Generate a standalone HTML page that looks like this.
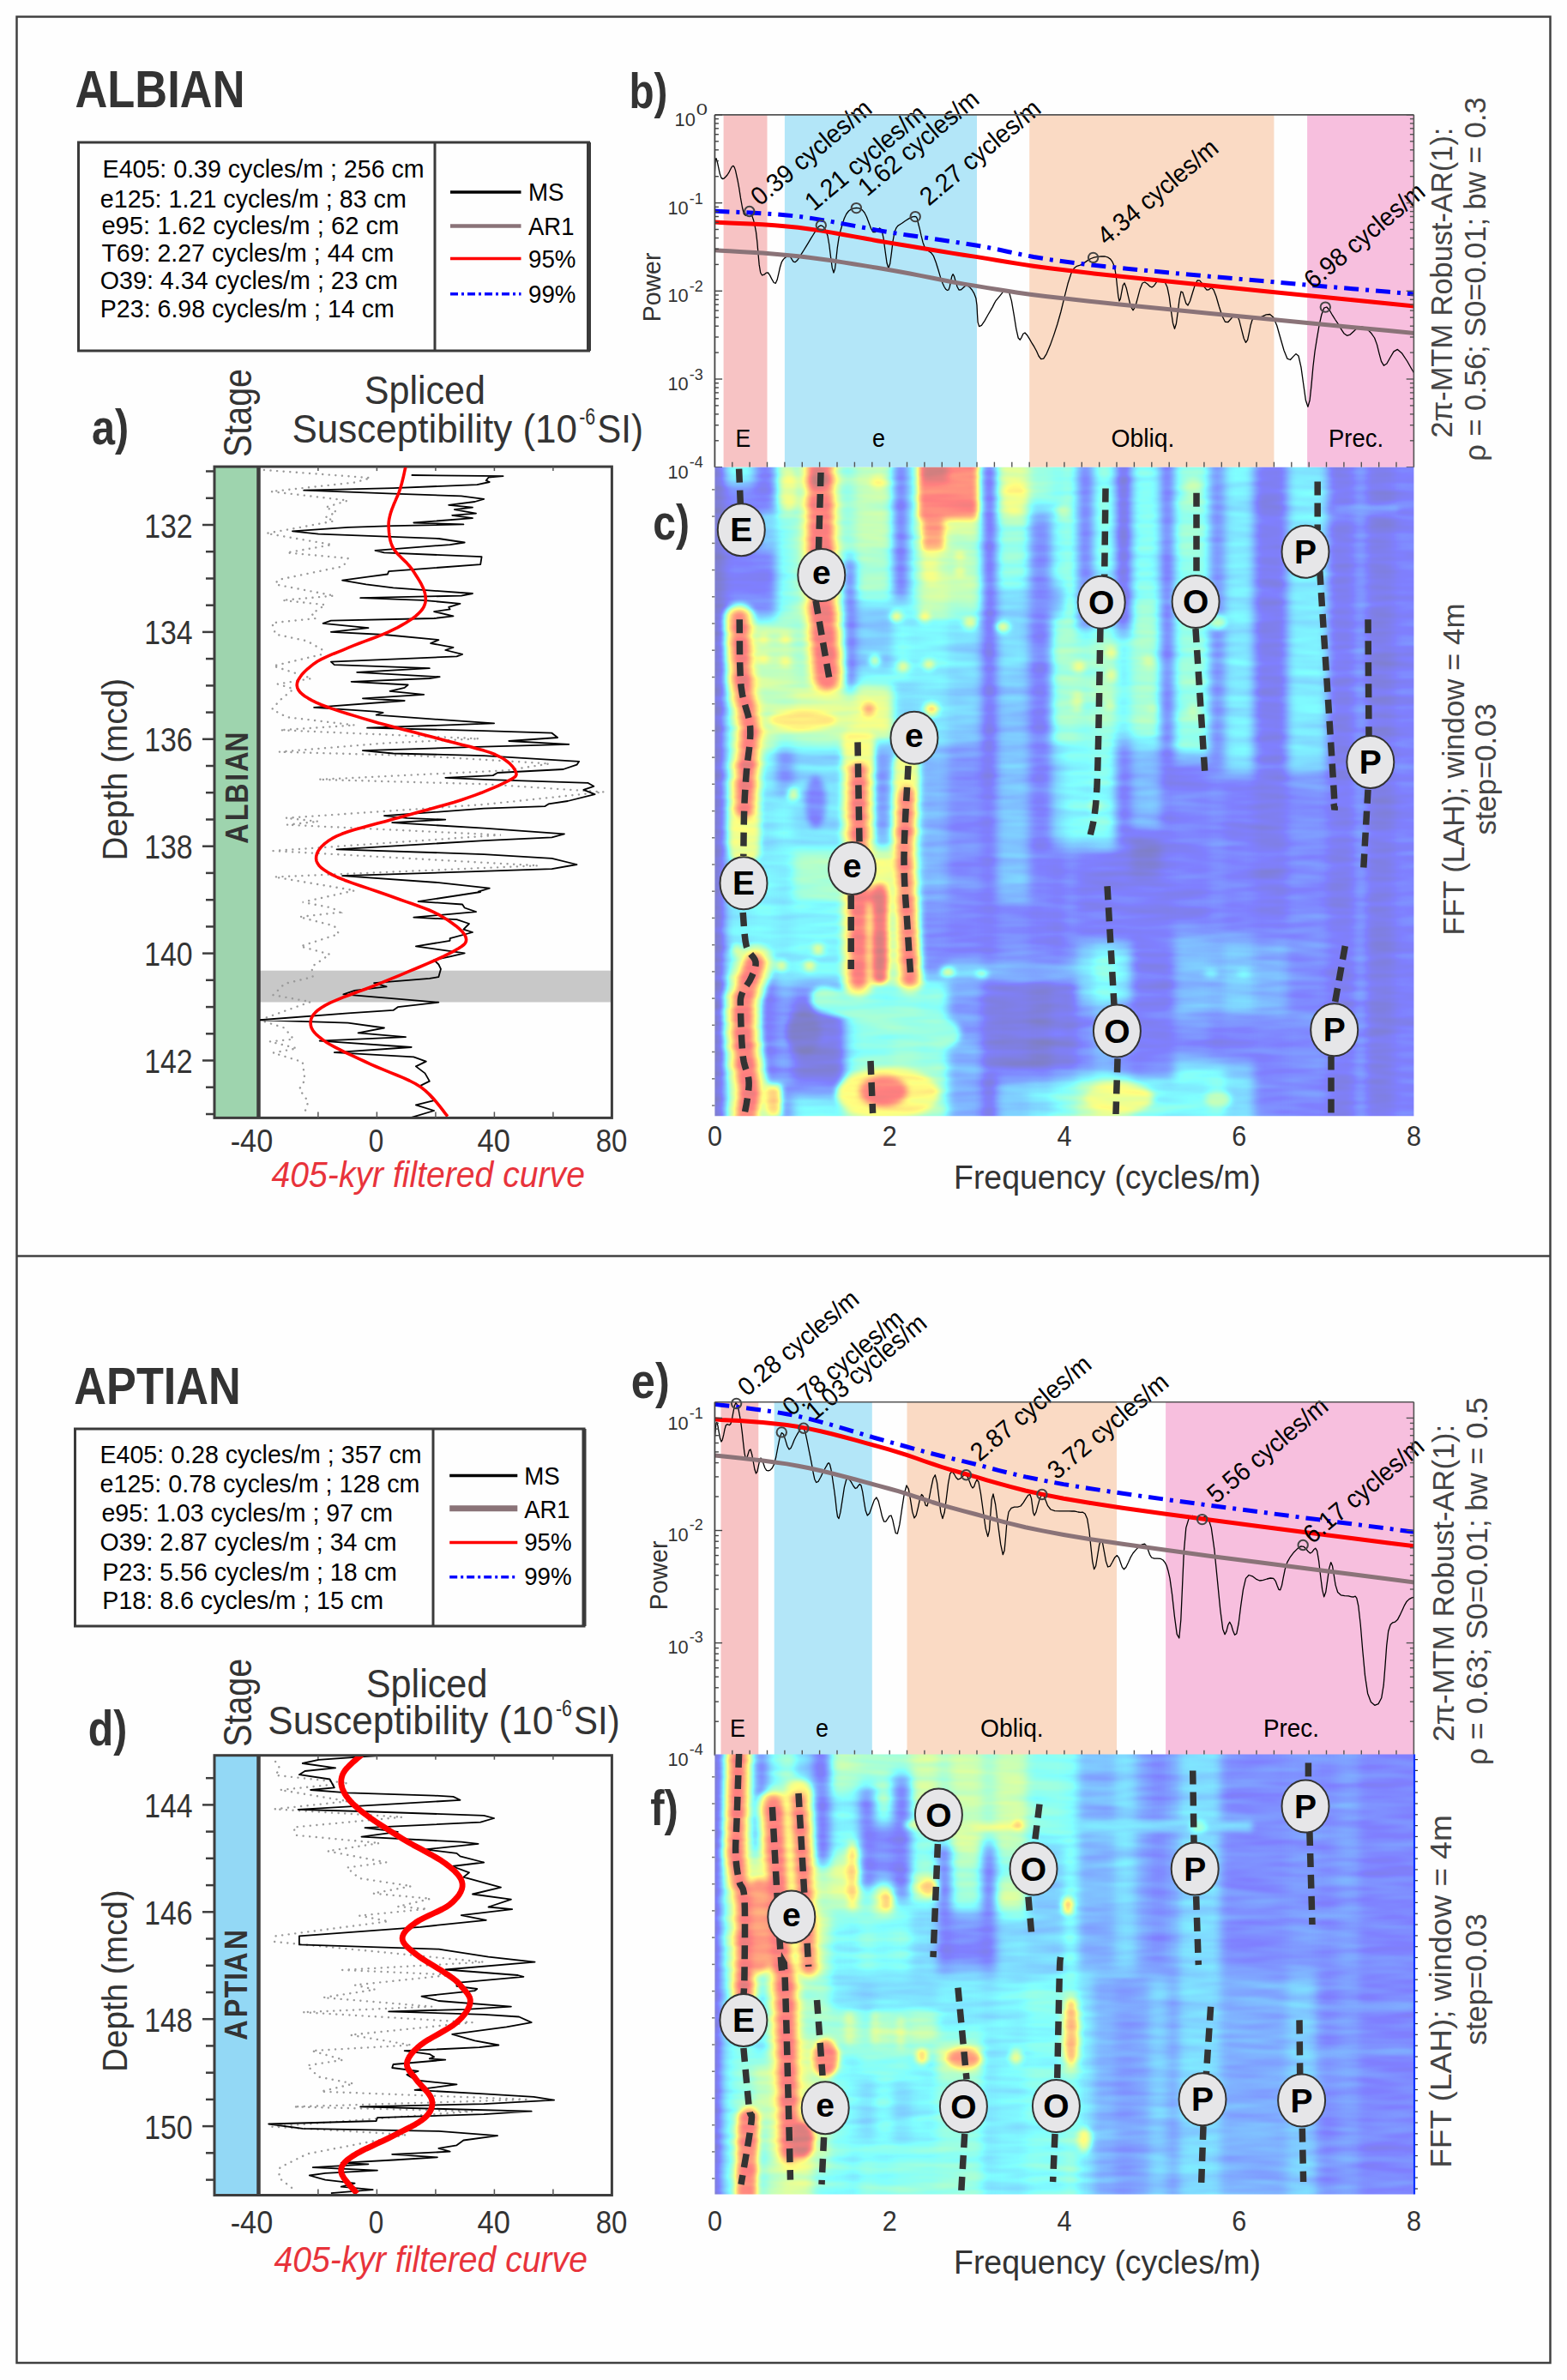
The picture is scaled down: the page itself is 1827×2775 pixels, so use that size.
<!DOCTYPE html>
<html><head><meta charset="utf-8"><style>
html,body{margin:0;padding:0;background:#fefefe;}
svg{display:block;font-family:"Liberation Sans",sans-serif;}
</style></head><body>
<svg width="1827" height="2775" viewBox="0 0 1827 2775">
<rect x="0.0" y="0.0" width="1827.0" height="2775.0" fill="#fefefe" stroke="none" stroke-width="1" />
<g id="spec"></g>
<rect x="19.5" y="19.5" width="1788.0" height="2735.5" fill="none" stroke="#404040" stroke-width="2.5" />
<line x1="19.5" y1="1464.5" x2="1807.5" y2="1464.5" stroke="#404040" stroke-width="2.5" />
<text x="87.5" y="124.6" font-size="61.6" fill="#333" font-weight="bold" textLength="198" lengthAdjust="spacingAndGlyphs" >ALBIAN</text>
<text x="86.3" y="1636.7" font-size="60.6" fill="#333" font-weight="bold" textLength="194.5" lengthAdjust="spacingAndGlyphs" >APTIAN</text>
<rect x="91.5" y="166.0" width="595.0" height="243.0" fill="none" stroke="#3a3a3a" stroke-width="3" />
<line x1="507.0" y1="166.0" x2="507.0" y2="409.0" stroke="#3a3a3a" stroke-width="3" />
<line x1="686.5" y1="166.0" x2="686.5" y2="409.0" stroke="#3a3a3a" stroke-width="5" />
<text x="119.6" y="206.9" font-size="30" fill="#000" textLength="375" lengthAdjust="spacingAndGlyphs" >E405: 0.39 cycles/m ; 256 cm</text>
<text x="116.8" y="241.8" font-size="30" fill="#000" textLength="357" lengthAdjust="spacingAndGlyphs" >e125: 1.21 cycles/m ; 83 cm</text>
<text x="118.4" y="273.0" font-size="30" fill="#000" textLength="347" lengthAdjust="spacingAndGlyphs" >e95: 1.62 cycles/m ;  62 cm</text>
<text x="118.4" y="305.0" font-size="30" fill="#000" textLength="341" lengthAdjust="spacingAndGlyphs" >T69: 2.27 cycles/m ; 44 cm</text>
<text x="116.8" y="336.8" font-size="30" fill="#000" textLength="347" lengthAdjust="spacingAndGlyphs" >O39: 4.34 cycles/m ; 23 cm</text>
<text x="116.8" y="369.6" font-size="30" fill="#000" textLength="343" lengthAdjust="spacingAndGlyphs" >P23: 6.98 cycles/m ; 14 cm</text>
<line x1="525.0" y1="224.0" x2="607.5" y2="224.0" stroke="#000" stroke-width="3.5" />
<text x="616.0" y="234.3" font-size="30" fill="#000" textLength="41.5" lengthAdjust="spacingAndGlyphs" >MS</text>
<line x1="525.0" y1="263.6" x2="607.5" y2="263.6" stroke="#8a7378" stroke-width="4.5" />
<text x="616.0" y="273.9" font-size="30" fill="#000" textLength="53.4" lengthAdjust="spacingAndGlyphs" >AR1</text>
<line x1="525.0" y1="301.6" x2="607.5" y2="301.6" stroke="#f00" stroke-width="3.5" />
<text x="616.0" y="312.2" font-size="30" fill="#000" textLength="55.4" lengthAdjust="spacingAndGlyphs" >95%</text>
<line x1="525.0" y1="342.7" x2="607.5" y2="342.7" stroke="#00f" stroke-width="3.5" stroke-dasharray="9,4,3,4"/>
<text x="616.0" y="352.6" font-size="30" fill="#000" textLength="55.4" lengthAdjust="spacingAndGlyphs" >99%</text>
<rect x="87.5" y="1666.0" width="593.5" height="230.0" fill="none" stroke="#3a3a3a" stroke-width="3" />
<line x1="505.0" y1="1666.0" x2="505.0" y2="1896.0" stroke="#3a3a3a" stroke-width="3" />
<line x1="681.0" y1="1666.0" x2="681.0" y2="1896.0" stroke="#3a3a3a" stroke-width="5" />
<text x="116.5" y="1706.2" font-size="30" fill="#000" textLength="375" lengthAdjust="spacingAndGlyphs" >E405: 0.28 cycles/m ; 357 cm</text>
<text x="116.5" y="1740.2" font-size="30" fill="#000" textLength="373" lengthAdjust="spacingAndGlyphs" >e125: 0.78 cycles/m ; 128 cm</text>
<text x="118.5" y="1773.9" font-size="30" fill="#000" textLength="339.5" lengthAdjust="spacingAndGlyphs" >e95: 1.03 cycles/m ; 97 cm</text>
<text x="116.5" y="1808.3" font-size="30" fill="#000" textLength="346" lengthAdjust="spacingAndGlyphs" >O39: 2.87 cycles/m ; 34 cm</text>
<text x="119.3" y="1842.7" font-size="30" fill="#000" textLength="343.5" lengthAdjust="spacingAndGlyphs" >P23: 5.56 cycles/m ; 18 cm</text>
<text x="119.3" y="1875.6" font-size="30" fill="#000" textLength="327.7" lengthAdjust="spacingAndGlyphs" >P18: 8.6 cycles/m ; 15 cm</text>
<line x1="524.2" y1="1720.4" x2="603.3" y2="1720.4" stroke="#000" stroke-width="3.5" />
<text x="611.2" y="1731.0" font-size="30" fill="#000" textLength="41.5" lengthAdjust="spacingAndGlyphs" >MS</text>
<line x1="524.2" y1="1758.8" x2="603.3" y2="1758.8" stroke="#8a7378" stroke-width="7" />
<text x="611.2" y="1770.0" font-size="30" fill="#000" textLength="53.4" lengthAdjust="spacingAndGlyphs" >AR1</text>
<line x1="524.2" y1="1798.4" x2="603.3" y2="1798.4" stroke="#f00" stroke-width="3.5" />
<text x="611.2" y="1808.0" font-size="30" fill="#000" textLength="55.4" lengthAdjust="spacingAndGlyphs" >95%</text>
<line x1="524.2" y1="1838.8" x2="603.3" y2="1838.8" stroke="#00f" stroke-width="3.5" stroke-dasharray="9,4,3,4"/>
<text x="611.2" y="1848.0" font-size="30" fill="#000" textLength="55.4" lengthAdjust="spacingAndGlyphs" >99%</text>
<rect x="250.0" y="544.1" width="51.0" height="759.3" fill="#9ed4ae" stroke="none" stroke-width="1" />
<rect x="302.0" y="1131.7" width="411.0" height="36.8" fill="#c8c8c8" stroke="none" stroke-width="1" />
<rect x="250.0" y="544.1" width="463.4" height="759.3" fill="none" stroke="#3d3d3d" stroke-width="3" />
<line x1="301.5" y1="544.1" x2="301.5" y2="1303.4" stroke="#3d3d3d" stroke-width="4.5" />
<line x1="370.9" y1="544.1" x2="370.9" y2="549.1" stroke="#555" stroke-width="1.5" />
<line x1="370.9" y1="1303.4" x2="370.9" y2="1296.4" stroke="#555" stroke-width="1.5" />
<line x1="439.4" y1="544.1" x2="439.4" y2="549.1" stroke="#555" stroke-width="1.5" />
<line x1="439.4" y1="1303.4" x2="439.4" y2="1296.4" stroke="#555" stroke-width="1.5" />
<line x1="507.9" y1="544.1" x2="507.9" y2="549.1" stroke="#555" stroke-width="1.5" />
<line x1="507.9" y1="1303.4" x2="507.9" y2="1296.4" stroke="#555" stroke-width="1.5" />
<line x1="576.4" y1="544.1" x2="576.4" y2="549.1" stroke="#555" stroke-width="1.5" />
<line x1="576.4" y1="1303.4" x2="576.4" y2="1296.4" stroke="#555" stroke-width="1.5" />
<line x1="644.9" y1="544.1" x2="644.9" y2="549.1" stroke="#555" stroke-width="1.5" />
<line x1="644.9" y1="1303.4" x2="644.9" y2="1296.4" stroke="#555" stroke-width="1.5" />
<line x1="240.0" y1="549.5" x2="250.0" y2="549.5" stroke="#3d3d3d" stroke-width="2.5" />
<line x1="240.0" y1="580.8" x2="250.0" y2="580.8" stroke="#3d3d3d" stroke-width="2.5" />
<line x1="240.0" y1="643.2" x2="250.0" y2="643.2" stroke="#3d3d3d" stroke-width="2.5" />
<line x1="240.0" y1="674.5" x2="250.0" y2="674.5" stroke="#3d3d3d" stroke-width="2.5" />
<line x1="240.0" y1="705.7" x2="250.0" y2="705.7" stroke="#3d3d3d" stroke-width="2.5" />
<line x1="240.0" y1="768.1" x2="250.0" y2="768.1" stroke="#3d3d3d" stroke-width="2.5" />
<line x1="240.0" y1="799.4" x2="250.0" y2="799.4" stroke="#3d3d3d" stroke-width="2.5" />
<line x1="240.0" y1="830.6" x2="250.0" y2="830.6" stroke="#3d3d3d" stroke-width="2.5" />
<line x1="240.0" y1="893.0" x2="250.0" y2="893.0" stroke="#3d3d3d" stroke-width="2.5" />
<line x1="240.0" y1="924.2" x2="250.0" y2="924.2" stroke="#3d3d3d" stroke-width="2.5" />
<line x1="240.0" y1="955.5" x2="250.0" y2="955.5" stroke="#3d3d3d" stroke-width="2.5" />
<line x1="240.0" y1="1017.9" x2="250.0" y2="1017.9" stroke="#3d3d3d" stroke-width="2.5" />
<line x1="240.0" y1="1049.2" x2="250.0" y2="1049.2" stroke="#3d3d3d" stroke-width="2.5" />
<line x1="240.0" y1="1080.4" x2="250.0" y2="1080.4" stroke="#3d3d3d" stroke-width="2.5" />
<line x1="240.0" y1="1142.8" x2="250.0" y2="1142.8" stroke="#3d3d3d" stroke-width="2.5" />
<line x1="240.0" y1="1174.1" x2="250.0" y2="1174.1" stroke="#3d3d3d" stroke-width="2.5" />
<line x1="240.0" y1="1205.3" x2="250.0" y2="1205.3" stroke="#3d3d3d" stroke-width="2.5" />
<line x1="240.0" y1="1267.7" x2="250.0" y2="1267.7" stroke="#3d3d3d" stroke-width="2.5" />
<line x1="240.0" y1="1299.0" x2="250.0" y2="1299.0" stroke="#3d3d3d" stroke-width="2.5" />
<line x1="236.0" y1="612.0" x2="250.0" y2="612.0" stroke="#3d3d3d" stroke-width="2.5" />
<line x1="236.0" y1="736.9" x2="250.0" y2="736.9" stroke="#3d3d3d" stroke-width="2.5" />
<line x1="236.0" y1="861.8" x2="250.0" y2="861.8" stroke="#3d3d3d" stroke-width="2.5" />
<line x1="236.0" y1="986.7" x2="250.0" y2="986.7" stroke="#3d3d3d" stroke-width="2.5" />
<line x1="236.0" y1="1111.6" x2="250.0" y2="1111.6" stroke="#3d3d3d" stroke-width="2.5" />
<line x1="236.0" y1="1236.5" x2="250.0" y2="1236.5" stroke="#3d3d3d" stroke-width="2.5" />
<text x="224.7" y="626.5" font-size="39" fill="#333" text-anchor="end" textLength="56.5" lengthAdjust="spacingAndGlyphs" >132</text>
<text x="224.7" y="751.4" font-size="39" fill="#333" text-anchor="end" textLength="56.5" lengthAdjust="spacingAndGlyphs" >134</text>
<text x="224.7" y="876.3" font-size="39" fill="#333" text-anchor="end" textLength="56.5" lengthAdjust="spacingAndGlyphs" >136</text>
<text x="224.7" y="1001.2" font-size="39" fill="#333" text-anchor="end" textLength="56.5" lengthAdjust="spacingAndGlyphs" >138</text>
<text x="224.7" y="1126.1" font-size="39" fill="#333" text-anchor="end" textLength="56.5" lengthAdjust="spacingAndGlyphs" >140</text>
<text x="224.7" y="1251.0" font-size="39" fill="#333" text-anchor="end" textLength="56.5" lengthAdjust="spacingAndGlyphs" >142</text>
<text x="106.9" y="518.0" font-size="58" fill="#333" font-weight="bold" textLength="43.2" lengthAdjust="spacingAndGlyphs" >a)</text>
<text transform="translate(293.2,533.0) rotate(-90)" x="0" y="0" font-size="47" fill="#333" textLength="103" lengthAdjust="spacingAndGlyphs" >Stage</text>
<text x="424.7" y="471.1" font-size="46" fill="#333" textLength="141.3" lengthAdjust="spacingAndGlyphs" >Spliced</text>
<text x="340.4" y="516.4" font-size="46" fill="#333" textLength="332.6" lengthAdjust="spacingAndGlyphs" >Susceptibility (10</text>
<text x="675.2" y="495.4" font-size="27" fill="#333" textLength="19" lengthAdjust="spacingAndGlyphs" >-6</text>
<text x="696.3" y="516.4" font-size="46" fill="#333" textLength="53.6" lengthAdjust="spacingAndGlyphs" >SI)</text>
<text transform="translate(148.0,1003.6) rotate(-90)" x="0" y="0" font-size="40.7" fill="#333" textLength="212.6" lengthAdjust="spacingAndGlyphs" >Depth (mcd)</text>
<g transform="translate(289.3,983.1) rotate(-90) scale(0.87,1)">
<text x="-0.90" y="0" font-size="37" font-weight="bold" fill="#333">A</text>
<text x="29.80" y="0" font-size="37" font-weight="bold" fill="#333">L</text>
<text x="53.25" y="0" font-size="37" font-weight="bold" fill="#333">B</text>
<text x="83.25" y="0" font-size="37" font-weight="bold" fill="#333">I</text>
<text x="95.88" y="0" font-size="37" font-weight="bold" fill="#333">A</text>
<text x="122.10" y="0" font-size="37" font-weight="bold" fill="#333">N</text>
</g>
<text x="268.7" y="1342.6" font-size="36" fill="#333" textLength="49.5" lengthAdjust="spacingAndGlyphs" >-40</text>
<text x="438.6" y="1342.6" font-size="36" fill="#333" text-anchor="middle" textLength="17.5" lengthAdjust="spacingAndGlyphs" >0</text>
<text x="575.7" y="1342.6" font-size="36" fill="#333" text-anchor="middle" textLength="38.3" lengthAdjust="spacingAndGlyphs" >40</text>
<text x="713.0" y="1342.6" font-size="36" fill="#333" text-anchor="middle" textLength="36.7" lengthAdjust="spacingAndGlyphs" >80</text>
<text x="316.6" y="1384.1" font-size="41.7" fill="#e8333b" font-style="italic" textLength="365.3" lengthAdjust="spacingAndGlyphs" >405-kyr filtered curve</text>
<rect x="250.0" y="2046.7" width="51.0" height="512.8" fill="#93d8f5" stroke="none" stroke-width="1" />
<rect x="250.0" y="2046.7" width="463.4" height="512.8" fill="none" stroke="#3d3d3d" stroke-width="3" />
<line x1="301.5" y1="2046.7" x2="301.5" y2="2559.5" stroke="#3d3d3d" stroke-width="4.5" />
<line x1="370.9" y1="2046.7" x2="370.9" y2="2051.7" stroke="#555" stroke-width="1.5" />
<line x1="370.9" y1="2559.5" x2="370.9" y2="2552.5" stroke="#555" stroke-width="1.5" />
<line x1="439.4" y1="2046.7" x2="439.4" y2="2051.7" stroke="#555" stroke-width="1.5" />
<line x1="439.4" y1="2559.5" x2="439.4" y2="2552.5" stroke="#555" stroke-width="1.5" />
<line x1="507.9" y1="2046.7" x2="507.9" y2="2051.7" stroke="#555" stroke-width="1.5" />
<line x1="507.9" y1="2559.5" x2="507.9" y2="2552.5" stroke="#555" stroke-width="1.5" />
<line x1="576.4" y1="2046.7" x2="576.4" y2="2051.7" stroke="#555" stroke-width="1.5" />
<line x1="576.4" y1="2559.5" x2="576.4" y2="2552.5" stroke="#555" stroke-width="1.5" />
<line x1="644.9" y1="2046.7" x2="644.9" y2="2051.7" stroke="#555" stroke-width="1.5" />
<line x1="644.9" y1="2559.5" x2="644.9" y2="2552.5" stroke="#555" stroke-width="1.5" />
<line x1="240.0" y1="2073.2" x2="250.0" y2="2073.2" stroke="#3d3d3d" stroke-width="2.5" />
<line x1="240.0" y1="2135.6" x2="250.0" y2="2135.6" stroke="#3d3d3d" stroke-width="2.5" />
<line x1="240.0" y1="2166.8" x2="250.0" y2="2166.8" stroke="#3d3d3d" stroke-width="2.5" />
<line x1="240.0" y1="2198.1" x2="250.0" y2="2198.1" stroke="#3d3d3d" stroke-width="2.5" />
<line x1="240.0" y1="2260.5" x2="250.0" y2="2260.5" stroke="#3d3d3d" stroke-width="2.5" />
<line x1="240.0" y1="2291.8" x2="250.0" y2="2291.8" stroke="#3d3d3d" stroke-width="2.5" />
<line x1="240.0" y1="2323.0" x2="250.0" y2="2323.0" stroke="#3d3d3d" stroke-width="2.5" />
<line x1="240.0" y1="2385.4" x2="250.0" y2="2385.4" stroke="#3d3d3d" stroke-width="2.5" />
<line x1="240.0" y1="2416.7" x2="250.0" y2="2416.7" stroke="#3d3d3d" stroke-width="2.5" />
<line x1="240.0" y1="2447.9" x2="250.0" y2="2447.9" stroke="#3d3d3d" stroke-width="2.5" />
<line x1="240.0" y1="2510.3" x2="250.0" y2="2510.3" stroke="#3d3d3d" stroke-width="2.5" />
<line x1="240.0" y1="2541.6" x2="250.0" y2="2541.6" stroke="#3d3d3d" stroke-width="2.5" />
<line x1="236.0" y1="2104.4" x2="250.0" y2="2104.4" stroke="#3d3d3d" stroke-width="2.5" />
<line x1="236.0" y1="2229.3" x2="250.0" y2="2229.3" stroke="#3d3d3d" stroke-width="2.5" />
<line x1="236.0" y1="2354.2" x2="250.0" y2="2354.2" stroke="#3d3d3d" stroke-width="2.5" />
<line x1="236.0" y1="2479.1" x2="250.0" y2="2479.1" stroke="#3d3d3d" stroke-width="2.5" />
<text x="224.7" y="2118.9" font-size="39" fill="#333" text-anchor="end" textLength="56.5" lengthAdjust="spacingAndGlyphs" >144</text>
<text x="224.7" y="2243.8" font-size="39" fill="#333" text-anchor="end" textLength="56.5" lengthAdjust="spacingAndGlyphs" >146</text>
<text x="224.7" y="2368.7" font-size="39" fill="#333" text-anchor="end" textLength="56.5" lengthAdjust="spacingAndGlyphs" >148</text>
<text x="224.7" y="2493.6" font-size="39" fill="#333" text-anchor="end" textLength="56.5" lengthAdjust="spacingAndGlyphs" >150</text>
<text x="102.7" y="2034.9" font-size="58" fill="#333" font-weight="bold" textLength="45.5" lengthAdjust="spacingAndGlyphs" >d)</text>
<text transform="translate(293.2,2036.8) rotate(-90)" x="0" y="0" font-size="47" fill="#333" textLength="103" lengthAdjust="spacingAndGlyphs" >Stage</text>
<text x="426.8" y="1979.4" font-size="46" fill="#333" textLength="141.6" lengthAdjust="spacingAndGlyphs" >Spliced</text>
<text x="312.3" y="2021.9" font-size="46" fill="#333" textLength="332.9" lengthAdjust="spacingAndGlyphs" >Susceptibility (10</text>
<text x="648.0" y="2000.9" font-size="27" fill="#333" textLength="19" lengthAdjust="spacingAndGlyphs" >-6</text>
<text x="669.1" y="2021.9" font-size="46" fill="#333" textLength="53.6" lengthAdjust="spacingAndGlyphs" >SI)</text>
<text transform="translate(148.0,2416.0) rotate(-90)" x="0" y="0" font-size="40.7" fill="#333" textLength="212.6" lengthAdjust="spacingAndGlyphs" >Depth (mcd)</text>
<g transform="translate(287.9,2377.9) rotate(-90) scale(0.87,1)">
<text x="-0.90" y="0" font-size="37" font-weight="bold" fill="#333">A</text>
<text x="29.57" y="0" font-size="37" font-weight="bold" fill="#333">P</text>
<text x="55.92" y="0" font-size="37" font-weight="bold" fill="#333">T</text>
<text x="79.22" y="0" font-size="37" font-weight="bold" fill="#333">I</text>
<text x="89.90" y="0" font-size="37" font-weight="bold" fill="#333">A</text>
<text x="120.37" y="0" font-size="37" font-weight="bold" fill="#333">N</text>
</g>
<text x="268.7" y="2603.9" font-size="36" fill="#333" textLength="49.5" lengthAdjust="spacingAndGlyphs" >-40</text>
<text x="438.6" y="2603.9" font-size="36" fill="#333" text-anchor="middle" textLength="17.5" lengthAdjust="spacingAndGlyphs" >0</text>
<text x="575.7" y="2603.9" font-size="36" fill="#333" text-anchor="middle" textLength="38.3" lengthAdjust="spacingAndGlyphs" >40</text>
<text x="713.0" y="2603.9" font-size="36" fill="#333" text-anchor="middle" textLength="36.7" lengthAdjust="spacingAndGlyphs" >80</text>
<text x="319.6" y="2648.8" font-size="41.7" fill="#e8333b" font-style="italic" textLength="365.3" lengthAdjust="spacingAndGlyphs" >405-kyr filtered curve</text>
<rect x="843.6" y="133.9" width="50.9" height="410.8" fill="#f7c3c4" stroke="none" stroke-width="1" />
<rect x="914.9" y="133.9" width="224.1" height="410.8" fill="#b3e6f8" stroke="none" stroke-width="1" />
<rect x="1200.2" y="133.9" width="285.2" height="410.8" fill="#fadac4" stroke="none" stroke-width="1" />
<rect x="1524.1" y="133.9" width="124.3" height="410.8" fill="#f7bfde" stroke="none" stroke-width="1" />
<text x="857.5" y="521.0" font-size="29" fill="#000" textLength="17.700000000000045" lengthAdjust="spacingAndGlyphs" >E</text>
<text x="1017.0" y="521.0" font-size="29" fill="#000" textLength="15" lengthAdjust="spacingAndGlyphs" >e</text>
<text x="1295.5" y="521.0" font-size="29" fill="#000" textLength="74.0" lengthAdjust="spacingAndGlyphs" >Obliq.</text>
<text x="1549.0" y="521.0" font-size="29" fill="#000" textLength="64" lengthAdjust="spacingAndGlyphs" >Prec.</text>
<clipPath id="cp133"><rect x="833.4" y="133.9" width="815" height="410.80000000000007"/></clipPath>
<g clip-path="url(#cp133)">
<path d="M833.4,200.0 L833.6,196.3 L833.8,190.9 L834.3,186.1 L835.0,184.6 L836.2,188.2 L837.7,195.2 L839.3,202.6 L841.0,207.4 L842.7,208.6 L844.4,207.8 L846.2,206.0 L848.0,204.0 L849.8,201.2 L851.6,197.5 L853.4,194.3 L855.0,193.4 L856.3,195.1 L857.5,198.6 L858.6,203.6 L860.0,210.0 L861.7,219.2 L863.5,230.9 L865.5,242.0 L867.4,249.5 L869.3,251.4 L871.3,249.8 L873.2,247.6 L875.0,248.0 L876.7,251.4 L878.4,256.2 L880.0,262.6 L881.5,270.6 L882.8,281.8 L884.0,295.7 L885.2,308.9 L886.7,318.0 L888.6,321.0 L890.9,320.2 L893.2,318.2 L895.5,318.0 L897.7,321.1 L900.0,325.7 L902.2,329.5 L904.3,330.3 L906.1,326.3 L907.8,319.2 L909.5,311.5 L911.3,305.7 L913.4,302.4 L915.6,300.2 L917.9,299.1 L920.0,298.7 L921.8,300.0 L923.4,302.6 L925.1,305.1 L927.0,305.7 L929.3,303.8 L931.8,300.4 L934.4,296.2 L937.0,292.0 L939.7,287.6 L942.6,282.8 L945.4,278.1 L948.0,274.0 L950.4,270.2 L952.7,266.6 L954.9,263.9 L957.0,262.9 L959.1,263.6 L961.1,265.6 L963.1,269.3 L965.0,275.0 L966.8,285.5 L968.6,299.8 L970.3,312.4 L972.0,318.0 L973.5,313.5 L974.9,302.2 L976.3,288.8 L978.0,277.6 L979.9,269.2 L982.1,261.5 L984.3,254.8 L986.8,249.5 L989.5,246.0 L992.5,243.9 L995.5,242.9 L998.3,242.5 L1000.8,242.6 L1003.2,243.4 L1005.6,245.1 L1008.0,248.0 L1010.5,253.0 L1013.0,259.8 L1015.5,266.3 L1018.0,270.6 L1020.5,270.6 L1023.1,267.9 L1025.6,265.9 L1028.0,268.0 L1030.1,277.9 L1032.1,292.8 L1034.0,306.5 L1035.9,312.7 L1037.7,307.5 L1039.4,295.1 L1041.1,280.9 L1043.0,270.6 L1045.0,265.7 L1047.0,263.1 L1049.3,261.7 L1052.0,260.0 L1055.5,257.5 L1059.7,254.9 L1063.7,252.9 L1066.8,252.3 L1068.5,253.1 L1069.4,255.0 L1070.0,258.0 L1071.0,262.0 L1072.5,267.7 L1074.1,274.9 L1075.9,282.2 L1078.0,288.0 L1080.4,291.3 L1083.0,293.0 L1085.8,294.9 L1088.5,298.7 L1091.2,305.7 L1094.0,314.7 L1096.6,323.6 L1099.0,330.3 L1101.0,334.5 L1102.8,337.3 L1104.5,338.5 L1106.0,338.0 L1107.3,334.4 L1108.5,328.2 L1109.7,322.3 L1111.0,319.7 L1112.5,322.2 L1114.2,328.0 L1116.0,334.2 L1118.0,338.0 L1120.3,337.9 L1122.8,335.7 L1125.4,333.4 L1128.0,333.0 L1130.6,334.9 L1133.3,338.0 L1135.9,342.4 L1137.9,347.8 L1139.0,355.9 L1139.5,366.3 L1140.1,375.6 L1141.6,380.6 L1144.4,379.4 L1148.0,374.1 L1151.8,367.3 L1155.0,361.8 L1157.3,357.9 L1159.0,354.4 L1160.7,351.2 L1163.0,348.4 L1166.1,344.6 L1169.6,340.2 L1173.2,337.9 L1176.5,340.4 L1179.4,350.9 L1182.2,367.1 L1184.8,383.3 L1187.2,394.0 L1189.3,396.2 L1191.1,393.3 L1192.9,389.3 L1195.0,388.0 L1197.5,390.7 L1200.3,395.1 L1203.2,400.2 L1206.0,404.7 L1208.6,409.5 L1211.0,415.0 L1213.7,418.6 L1216.7,418.1 L1220.3,412.3 L1224.4,402.6 L1228.7,390.6 L1232.8,378.0 L1236.9,363.5 L1241.0,346.7 L1245.0,330.8 L1248.8,319.0 L1252.3,312.8 L1255.5,310.3 L1258.7,309.4 L1262.0,308.0 L1265.3,305.6 L1268.6,303.4 L1272.0,301.5 L1275.6,300.2 L1279.7,299.3 L1284.1,298.9 L1288.4,299.0 L1292.0,300.2 L1294.7,302.1 L1296.7,304.8 L1298.4,308.6 L1300.0,314.0 L1301.4,323.0 L1302.6,334.7 L1303.8,345.3 L1305.0,351.0 L1306.3,348.6 L1307.7,340.8 L1309.2,332.9 L1311.0,330.0 L1313.2,335.7 L1315.7,346.6 L1318.3,357.1 L1321.0,361.8 L1323.7,357.5 L1326.4,347.6 L1329.2,336.9 L1332.0,330.0 L1334.8,329.0 L1337.7,331.0 L1340.5,333.8 L1343.0,335.0 L1345.2,333.5 L1347.1,330.8 L1348.9,328.2 L1351.0,327.0 L1353.4,326.9 L1356.0,327.5 L1358.6,329.8 L1361.0,335.0 L1363.3,346.4 L1365.4,362.4 L1367.5,376.7 L1369.5,383.3 L1371.4,377.5 L1373.3,363.7 L1375.1,348.8 L1377.0,340.0 L1378.9,340.9 L1380.8,347.1 L1382.8,353.8 L1385.0,356.0 L1387.5,351.0 L1390.3,341.8 L1393.2,332.5 L1396.0,327.0 L1398.8,327.2 L1401.7,330.7 L1404.5,335.1 L1407.0,338.0 L1409.1,337.9 L1410.9,336.4 L1412.7,335.6 L1415.0,338.0 L1418.0,345.8 L1421.3,357.2 L1424.9,368.3 L1428.4,375.3 L1431.9,375.5 L1435.4,371.5 L1438.8,367.3 L1442.0,367.0 L1444.9,373.6 L1447.6,384.3 L1450.2,394.5 L1452.5,399.4 L1454.6,396.4 L1456.3,388.4 L1458.1,379.3 L1460.0,373.0 L1462.0,370.5 L1464.0,369.9 L1466.2,370.0 L1469.0,370.0 L1472.4,368.6 L1476.4,366.8 L1480.6,366.5 L1484.7,369.9 L1488.8,379.8 L1492.9,394.2 L1497.0,408.5 L1500.8,418.1 L1504.4,419.5 L1507.7,415.9 L1510.9,412.6 L1514.0,415.0 L1517.0,428.4 L1519.8,448.5 L1522.4,466.8 L1524.9,474.4 L1527.1,466.7 L1529.0,449.1 L1530.9,428.0 L1533.0,410.0 L1535.4,394.8 L1538.0,379.7 L1540.8,367.0 L1543.7,359.2 L1546.8,358.0 L1550.2,361.8 L1553.6,367.7 L1557.0,373.0 L1560.3,377.9 L1563.6,383.7 L1566.9,388.7 L1570.5,391.3 L1574.3,390.1 L1578.4,386.3 L1582.5,382.3 L1586.6,380.6 L1590.7,381.8 L1594.9,384.6 L1599.0,388.8 L1602.6,394.0 L1605.5,401.9 L1608.0,412.1 L1610.5,421.3 L1613.4,426.2 L1616.9,424.0 L1620.8,417.0 L1625.0,409.9 L1629.4,407.4 L1634.7,412.1 L1640.6,421.0 L1646.0,430.5 L1649.8,436.9" stroke="#000" stroke-width="1.3" fill="none" stroke-linejoin="round" />
<path d="M833.4,291.7 L840.8,292.2 L850.7,292.8 L862.4,293.4 L875.4,294.2 L889.3,295.1 L903.5,296.2 L917.4,297.4 L930.6,298.7 L943.4,300.2 L956.4,302.0 L969.6,303.8 L983.0,305.9 L996.3,308.0 L1009.6,310.1 L1022.8,312.3 L1035.9,314.5 L1048.6,316.7 L1060.9,319.0 L1073.1,321.4 L1085.2,323.8 L1097.6,326.2 L1110.4,328.7 L1123.7,331.1 L1137.9,333.4 L1151.3,335.6 L1163.0,337.5 L1174.3,339.3 L1186.6,341.2 L1201.0,343.2 L1218.9,345.5 L1241.4,348.1 L1270.0,351.3 L1308.2,355.3 L1356.4,360.1 L1411.0,365.5 L1468.2,371.1 L1524.3,376.5 L1575.7,381.4 L1618.8,385.6 L1649.8,388.6" stroke="#8a7378" stroke-width="5" fill="none" stroke-linejoin="round" />
<path d="M833.4,259.0 L840.8,259.4 L850.7,259.9 L862.4,260.4 L875.4,261.1 L889.3,261.8 L903.5,262.8 L917.4,263.9 L930.6,265.3 L943.4,267.0 L956.4,268.9 L969.6,271.1 L983.0,273.5 L996.3,275.9 L1009.6,278.3 L1022.8,280.7 L1035.9,282.9 L1048.5,285.0 L1060.8,287.0 L1072.7,289.0 L1084.8,291.0 L1097.0,293.0 L1109.8,295.1 L1123.3,297.2 L1137.7,299.4 L1151.6,301.6 L1164.1,303.7 L1176.4,305.7 L1189.6,307.9 L1205.0,310.2 L1223.7,312.7 L1246.8,315.6 L1275.6,319.0 L1313.6,323.1 L1361.3,328.1 L1415.1,333.6 L1471.3,339.2 L1526.5,344.7 L1577.0,349.7 L1619.3,353.9 L1649.8,357.0" stroke="#ff0000" stroke-width="5" fill="none" stroke-linejoin="round" />
<path d="M833.4,246.0 L840.8,246.4 L850.7,246.9 L862.4,247.4 L875.4,248.0 L889.3,248.8 L903.5,249.7 L917.4,250.9 L930.6,252.3 L943.4,254.0 L956.4,256.1 L969.6,258.4 L983.0,260.9 L996.3,263.4 L1009.6,265.9 L1022.8,268.4 L1035.9,270.6 L1048.5,272.6 L1060.8,274.5 L1072.7,276.2 L1084.8,278.0 L1097.0,279.8 L1109.8,281.7 L1123.3,283.7 L1137.7,286.0 L1151.6,288.5 L1164.1,291.0 L1176.4,293.7 L1189.6,296.5 L1205.0,299.5 L1223.7,302.6 L1246.8,305.8 L1275.6,309.3 L1313.6,313.2 L1361.3,317.8 L1415.1,322.7 L1471.3,327.6 L1526.5,332.4 L1577.0,336.7 L1619.3,340.3 L1649.8,343.0" stroke="#0000ff" stroke-width="5" fill="none" stroke-linejoin="round" stroke-dasharray="17,8,4,8"/>
</g>
<circle cx="873.8" cy="246.5" r="5.7" fill="none" stroke="#444" stroke-width="2"/>
<circle cx="957.3" cy="262.7" r="5.7" fill="none" stroke="#444" stroke-width="2"/>
<circle cx="998.4" cy="242.6" r="5.7" fill="none" stroke="#444" stroke-width="2"/>
<circle cx="1067.2" cy="252.6" r="5.7" fill="none" stroke="#444" stroke-width="2"/>
<circle cx="1274.6" cy="300.4" r="5.7" fill="none" stroke="#444" stroke-width="2"/>
<circle cx="1545.3" cy="358.1" r="5.7" fill="none" stroke="#444" stroke-width="2"/>
<text transform="translate(886.0,241.0) rotate(-40)" x="0" y="0" font-size="30" fill="#000" textLength="173" lengthAdjust="spacingAndGlyphs" >0.39 cycles/m</text>
<text transform="translate(949.0,247.0) rotate(-40)" x="0" y="0" font-size="30" fill="#000" textLength="173" lengthAdjust="spacingAndGlyphs" >1.21 cycles/m</text>
<text transform="translate(1011.0,230.0) rotate(-40)" x="0" y="0" font-size="30" fill="#000" textLength="173" lengthAdjust="spacingAndGlyphs" >1.62 cycles/m</text>
<text transform="translate(1083.0,241.0) rotate(-40)" x="0" y="0" font-size="30" fill="#000" textLength="173" lengthAdjust="spacingAndGlyphs" >2.27 cycles/m</text>
<text transform="translate(1290.0,287.0) rotate(-40)" x="0" y="0" font-size="30" fill="#000" textLength="173" lengthAdjust="spacingAndGlyphs" >4.34 cycles/m</text>
<text transform="translate(1531.0,338.0) rotate(-40)" x="0" y="0" font-size="30" fill="#000" textLength="173" lengthAdjust="spacingAndGlyphs" >6.98 cycles/m</text>
<line x1="833.4" y1="133.9" x2="1648.4" y2="133.9" stroke="#555" stroke-width="1.6" />
<line x1="833.4" y1="133.9" x2="833.4" y2="544.7" stroke="#444" stroke-width="1.8" />
<line x1="1648.4" y1="133.9" x2="1648.4" y2="544.7" stroke="#555" stroke-width="1.6" />
<line x1="833.4" y1="133.9" x2="842.1" y2="133.9" stroke="#444" stroke-width="1.4" />
<line x1="1648.4" y1="133.9" x2="1639.7" y2="133.9" stroke="#555" stroke-width="1.4" />
<line x1="833.4" y1="236.6" x2="842.1" y2="236.6" stroke="#444" stroke-width="1.4" />
<line x1="1648.4" y1="236.6" x2="1639.7" y2="236.6" stroke="#555" stroke-width="1.4" />
<line x1="833.4" y1="205.7" x2="837.9" y2="205.7" stroke="#444" stroke-width="1.4" />
<line x1="1648.4" y1="205.7" x2="1643.9" y2="205.7" stroke="#555" stroke-width="1.4" />
<line x1="833.4" y1="187.6" x2="837.9" y2="187.6" stroke="#444" stroke-width="1.4" />
<line x1="1648.4" y1="187.6" x2="1643.9" y2="187.6" stroke="#555" stroke-width="1.4" />
<line x1="833.4" y1="174.8" x2="837.9" y2="174.8" stroke="#444" stroke-width="1.4" />
<line x1="1648.4" y1="174.8" x2="1643.9" y2="174.8" stroke="#555" stroke-width="1.4" />
<line x1="833.4" y1="164.8" x2="837.9" y2="164.8" stroke="#444" stroke-width="1.4" />
<line x1="1648.4" y1="164.8" x2="1643.9" y2="164.8" stroke="#555" stroke-width="1.4" />
<line x1="833.4" y1="156.7" x2="837.9" y2="156.7" stroke="#444" stroke-width="1.4" />
<line x1="1648.4" y1="156.7" x2="1643.9" y2="156.7" stroke="#555" stroke-width="1.4" />
<line x1="833.4" y1="149.8" x2="837.9" y2="149.8" stroke="#444" stroke-width="1.4" />
<line x1="1648.4" y1="149.8" x2="1643.9" y2="149.8" stroke="#555" stroke-width="1.4" />
<line x1="833.4" y1="143.9" x2="837.9" y2="143.9" stroke="#444" stroke-width="1.4" />
<line x1="1648.4" y1="143.9" x2="1643.9" y2="143.9" stroke="#555" stroke-width="1.4" />
<line x1="833.4" y1="138.6" x2="837.9" y2="138.6" stroke="#444" stroke-width="1.4" />
<line x1="1648.4" y1="138.6" x2="1643.9" y2="138.6" stroke="#555" stroke-width="1.4" />
<line x1="833.4" y1="339.3" x2="842.1" y2="339.3" stroke="#444" stroke-width="1.4" />
<line x1="1648.4" y1="339.3" x2="1639.7" y2="339.3" stroke="#555" stroke-width="1.4" />
<line x1="833.4" y1="308.4" x2="837.9" y2="308.4" stroke="#444" stroke-width="1.4" />
<line x1="1648.4" y1="308.4" x2="1643.9" y2="308.4" stroke="#555" stroke-width="1.4" />
<line x1="833.4" y1="290.3" x2="837.9" y2="290.3" stroke="#444" stroke-width="1.4" />
<line x1="1648.4" y1="290.3" x2="1643.9" y2="290.3" stroke="#555" stroke-width="1.4" />
<line x1="833.4" y1="277.5" x2="837.9" y2="277.5" stroke="#444" stroke-width="1.4" />
<line x1="1648.4" y1="277.5" x2="1643.9" y2="277.5" stroke="#555" stroke-width="1.4" />
<line x1="833.4" y1="267.5" x2="837.9" y2="267.5" stroke="#444" stroke-width="1.4" />
<line x1="1648.4" y1="267.5" x2="1643.9" y2="267.5" stroke="#555" stroke-width="1.4" />
<line x1="833.4" y1="259.4" x2="837.9" y2="259.4" stroke="#444" stroke-width="1.4" />
<line x1="1648.4" y1="259.4" x2="1643.9" y2="259.4" stroke="#555" stroke-width="1.4" />
<line x1="833.4" y1="252.5" x2="837.9" y2="252.5" stroke="#444" stroke-width="1.4" />
<line x1="1648.4" y1="252.5" x2="1643.9" y2="252.5" stroke="#555" stroke-width="1.4" />
<line x1="833.4" y1="246.6" x2="837.9" y2="246.6" stroke="#444" stroke-width="1.4" />
<line x1="1648.4" y1="246.6" x2="1643.9" y2="246.6" stroke="#555" stroke-width="1.4" />
<line x1="833.4" y1="241.3" x2="837.9" y2="241.3" stroke="#444" stroke-width="1.4" />
<line x1="1648.4" y1="241.3" x2="1643.9" y2="241.3" stroke="#555" stroke-width="1.4" />
<line x1="833.4" y1="442.0" x2="842.1" y2="442.0" stroke="#444" stroke-width="1.4" />
<line x1="1648.4" y1="442.0" x2="1639.7" y2="442.0" stroke="#555" stroke-width="1.4" />
<line x1="833.4" y1="411.1" x2="837.9" y2="411.1" stroke="#444" stroke-width="1.4" />
<line x1="1648.4" y1="411.1" x2="1643.9" y2="411.1" stroke="#555" stroke-width="1.4" />
<line x1="833.4" y1="393.0" x2="837.9" y2="393.0" stroke="#444" stroke-width="1.4" />
<line x1="1648.4" y1="393.0" x2="1643.9" y2="393.0" stroke="#555" stroke-width="1.4" />
<line x1="833.4" y1="380.2" x2="837.9" y2="380.2" stroke="#444" stroke-width="1.4" />
<line x1="1648.4" y1="380.2" x2="1643.9" y2="380.2" stroke="#555" stroke-width="1.4" />
<line x1="833.4" y1="370.2" x2="837.9" y2="370.2" stroke="#444" stroke-width="1.4" />
<line x1="1648.4" y1="370.2" x2="1643.9" y2="370.2" stroke="#555" stroke-width="1.4" />
<line x1="833.4" y1="362.1" x2="837.9" y2="362.1" stroke="#444" stroke-width="1.4" />
<line x1="1648.4" y1="362.1" x2="1643.9" y2="362.1" stroke="#555" stroke-width="1.4" />
<line x1="833.4" y1="355.2" x2="837.9" y2="355.2" stroke="#444" stroke-width="1.4" />
<line x1="1648.4" y1="355.2" x2="1643.9" y2="355.2" stroke="#555" stroke-width="1.4" />
<line x1="833.4" y1="349.3" x2="837.9" y2="349.3" stroke="#444" stroke-width="1.4" />
<line x1="1648.4" y1="349.3" x2="1643.9" y2="349.3" stroke="#555" stroke-width="1.4" />
<line x1="833.4" y1="344.0" x2="837.9" y2="344.0" stroke="#444" stroke-width="1.4" />
<line x1="1648.4" y1="344.0" x2="1643.9" y2="344.0" stroke="#555" stroke-width="1.4" />
<line x1="833.4" y1="544.7" x2="842.1" y2="544.7" stroke="#444" stroke-width="1.4" />
<line x1="1648.4" y1="544.7" x2="1639.7" y2="544.7" stroke="#555" stroke-width="1.4" />
<line x1="833.4" y1="513.8" x2="837.9" y2="513.8" stroke="#444" stroke-width="1.4" />
<line x1="1648.4" y1="513.8" x2="1643.9" y2="513.8" stroke="#555" stroke-width="1.4" />
<line x1="833.4" y1="495.7" x2="837.9" y2="495.7" stroke="#444" stroke-width="1.4" />
<line x1="1648.4" y1="495.7" x2="1643.9" y2="495.7" stroke="#555" stroke-width="1.4" />
<line x1="833.4" y1="482.9" x2="837.9" y2="482.9" stroke="#444" stroke-width="1.4" />
<line x1="1648.4" y1="482.9" x2="1643.9" y2="482.9" stroke="#555" stroke-width="1.4" />
<line x1="833.4" y1="472.9" x2="837.9" y2="472.9" stroke="#444" stroke-width="1.4" />
<line x1="1648.4" y1="472.9" x2="1643.9" y2="472.9" stroke="#555" stroke-width="1.4" />
<line x1="833.4" y1="464.8" x2="837.9" y2="464.8" stroke="#444" stroke-width="1.4" />
<line x1="1648.4" y1="464.8" x2="1643.9" y2="464.8" stroke="#555" stroke-width="1.4" />
<line x1="833.4" y1="457.9" x2="837.9" y2="457.9" stroke="#444" stroke-width="1.4" />
<line x1="1648.4" y1="457.9" x2="1643.9" y2="457.9" stroke="#555" stroke-width="1.4" />
<line x1="833.4" y1="452.0" x2="837.9" y2="452.0" stroke="#444" stroke-width="1.4" />
<line x1="1648.4" y1="452.0" x2="1643.9" y2="452.0" stroke="#555" stroke-width="1.4" />
<line x1="833.4" y1="446.7" x2="837.9" y2="446.7" stroke="#444" stroke-width="1.4" />
<line x1="1648.4" y1="446.7" x2="1643.9" y2="446.7" stroke="#555" stroke-width="1.4" />
<line x1="853.8" y1="544.7" x2="853.8" y2="538.7" stroke="#555" stroke-width="1.4" />
<line x1="874.1" y1="544.7" x2="874.1" y2="538.7" stroke="#555" stroke-width="1.4" />
<line x1="894.5" y1="544.7" x2="894.5" y2="538.7" stroke="#555" stroke-width="1.4" />
<line x1="914.9" y1="544.7" x2="914.9" y2="538.7" stroke="#555" stroke-width="1.4" />
<line x1="935.3" y1="544.7" x2="935.3" y2="538.7" stroke="#555" stroke-width="1.4" />
<line x1="955.6" y1="544.7" x2="955.6" y2="538.7" stroke="#555" stroke-width="1.4" />
<line x1="976.0" y1="544.7" x2="976.0" y2="538.7" stroke="#555" stroke-width="1.4" />
<line x1="996.4" y1="544.7" x2="996.4" y2="538.7" stroke="#555" stroke-width="1.4" />
<line x1="1016.8" y1="544.7" x2="1016.8" y2="538.7" stroke="#555" stroke-width="1.4" />
<line x1="1037.2" y1="544.7" x2="1037.2" y2="538.7" stroke="#555" stroke-width="1.4" />
<line x1="1057.5" y1="544.7" x2="1057.5" y2="538.7" stroke="#555" stroke-width="1.4" />
<line x1="1077.9" y1="544.7" x2="1077.9" y2="538.7" stroke="#555" stroke-width="1.4" />
<line x1="1098.3" y1="544.7" x2="1098.3" y2="538.7" stroke="#555" stroke-width="1.4" />
<line x1="1118.7" y1="544.7" x2="1118.7" y2="538.7" stroke="#555" stroke-width="1.4" />
<line x1="1139.0" y1="544.7" x2="1139.0" y2="538.7" stroke="#555" stroke-width="1.4" />
<line x1="1159.4" y1="544.7" x2="1159.4" y2="538.7" stroke="#555" stroke-width="1.4" />
<line x1="1179.8" y1="544.7" x2="1179.8" y2="538.7" stroke="#555" stroke-width="1.4" />
<line x1="1200.2" y1="544.7" x2="1200.2" y2="538.7" stroke="#555" stroke-width="1.4" />
<line x1="1220.5" y1="544.7" x2="1220.5" y2="538.7" stroke="#555" stroke-width="1.4" />
<line x1="1240.9" y1="544.7" x2="1240.9" y2="538.7" stroke="#555" stroke-width="1.4" />
<line x1="1261.3" y1="544.7" x2="1261.3" y2="538.7" stroke="#555" stroke-width="1.4" />
<line x1="1281.7" y1="544.7" x2="1281.7" y2="538.7" stroke="#555" stroke-width="1.4" />
<line x1="1302.0" y1="544.7" x2="1302.0" y2="538.7" stroke="#555" stroke-width="1.4" />
<line x1="1322.4" y1="544.7" x2="1322.4" y2="538.7" stroke="#555" stroke-width="1.4" />
<line x1="1342.8" y1="544.7" x2="1342.8" y2="538.7" stroke="#555" stroke-width="1.4" />
<line x1="1363.2" y1="544.7" x2="1363.2" y2="538.7" stroke="#555" stroke-width="1.4" />
<line x1="1383.5" y1="544.7" x2="1383.5" y2="538.7" stroke="#555" stroke-width="1.4" />
<line x1="1403.9" y1="544.7" x2="1403.9" y2="538.7" stroke="#555" stroke-width="1.4" />
<line x1="1424.3" y1="544.7" x2="1424.3" y2="538.7" stroke="#555" stroke-width="1.4" />
<line x1="1444.7" y1="544.7" x2="1444.7" y2="538.7" stroke="#555" stroke-width="1.4" />
<line x1="1465.0" y1="544.7" x2="1465.0" y2="538.7" stroke="#555" stroke-width="1.4" />
<line x1="1485.4" y1="544.7" x2="1485.4" y2="538.7" stroke="#555" stroke-width="1.4" />
<line x1="1505.8" y1="544.7" x2="1505.8" y2="538.7" stroke="#555" stroke-width="1.4" />
<line x1="1526.2" y1="544.7" x2="1526.2" y2="538.7" stroke="#555" stroke-width="1.4" />
<line x1="1546.5" y1="544.7" x2="1546.5" y2="538.7" stroke="#555" stroke-width="1.4" />
<line x1="1566.9" y1="544.7" x2="1566.9" y2="538.7" stroke="#555" stroke-width="1.4" />
<line x1="1587.3" y1="544.7" x2="1587.3" y2="538.7" stroke="#555" stroke-width="1.4" />
<line x1="1607.7" y1="544.7" x2="1607.7" y2="538.7" stroke="#555" stroke-width="1.4" />
<line x1="1628.0" y1="544.7" x2="1628.0" y2="538.7" stroke="#555" stroke-width="1.4" />
<text x="786.6" y="146.8" font-size="21.5" fill="#333" textLength="24.2" lengthAdjust="spacingAndGlyphs" >10</text>
<text x="811.8" y="134.3" font-size="19" fill="#333" textLength="13.2" lengthAdjust="spacingAndGlyphs" >0</text>
<text x="778.5" y="250.3" font-size="21.5" fill="#333" textLength="24.2" lengthAdjust="spacingAndGlyphs" >10</text>
<text x="803.7" y="237.8" font-size="19" fill="#333" textLength="16" lengthAdjust="spacingAndGlyphs" >-1</text>
<text x="778.5" y="352.1" font-size="21.5" fill="#333" textLength="24.2" lengthAdjust="spacingAndGlyphs" >10</text>
<text x="803.7" y="339.6" font-size="19" fill="#333" textLength="16" lengthAdjust="spacingAndGlyphs" >-2</text>
<text x="778.5" y="455.0" font-size="21.5" fill="#333" textLength="24.2" lengthAdjust="spacingAndGlyphs" >10</text>
<text x="803.7" y="442.5" font-size="19" fill="#333" textLength="16" lengthAdjust="spacingAndGlyphs" >-3</text>
<text x="778.5" y="557.8" font-size="21.5" fill="#333" textLength="24.2" lengthAdjust="spacingAndGlyphs" >10</text>
<text x="803.7" y="545.3" font-size="19" fill="#333" textLength="16" lengthAdjust="spacingAndGlyphs" >-4</text>
<text x="733.5" y="126.2" font-size="58" fill="#333" font-weight="bold" textLength="45" lengthAdjust="spacingAndGlyphs" >b)</text>
<text transform="translate(770.4,375.3) rotate(-90)" x="0" y="0" font-size="30" fill="#333" textLength="80.7" lengthAdjust="spacingAndGlyphs" >Power</text>
<text transform="translate(1693.4,510.6) rotate(-90)" x="0" y="0" font-size="35" fill="#444" textLength="362" lengthAdjust="spacingAndGlyphs" >2π-MTM Robust-AR(1):</text>
<text transform="translate(1731.8,537.8) rotate(-90)" x="0" y="0" font-size="35" fill="#444" textLength="424.5" lengthAdjust="spacingAndGlyphs" >ρ = 0.56; S0=0.01; bw = 0.3</text>
<rect x="840.5" y="1634.7" width="43.8" height="412.0" fill="#f7c3c4" stroke="none" stroke-width="1" />
<rect x="902.7" y="1634.7" width="114.1" height="412.0" fill="#b3e6f8" stroke="none" stroke-width="1" />
<rect x="1057.5" y="1634.7" width="244.5" height="412.0" fill="#fadac4" stroke="none" stroke-width="1" />
<rect x="1359.1" y="1634.7" width="289.3" height="412.0" fill="#f7bfde" stroke="none" stroke-width="1" />
<text x="851.0" y="2025.3" font-size="29" fill="#000" textLength="18" lengthAdjust="spacingAndGlyphs" >E</text>
<text x="951.0" y="2025.3" font-size="29" fill="#000" textLength="15" lengthAdjust="spacingAndGlyphs" >e</text>
<text x="1143.0" y="2025.3" font-size="29" fill="#000" textLength="73.70000000000005" lengthAdjust="spacingAndGlyphs" >Obliq.</text>
<text x="1473.0" y="2025.3" font-size="29" fill="#000" textLength="65" lengthAdjust="spacingAndGlyphs" >Prec.</text>
<clipPath id="cp1634"><rect x="833.4" y="1634.7" width="815" height="412.0"/></clipPath>
<g clip-path="url(#cp1634)">
<path d="M833.4,1675.8 L833.8,1671.7 L834.3,1665.6 L834.9,1660.3 L835.8,1658.3 L836.9,1662.1 L838.2,1669.8 L839.6,1677.3 L841.0,1681.0 L842.3,1678.7 L843.7,1672.9 L845.0,1666.4 L846.4,1661.8 L847.8,1660.7 L849.2,1661.2 L850.6,1661.6 L852.0,1660.0 L853.5,1654.3 L855.0,1646.1 L856.5,1638.7 L858.0,1635.5 L859.5,1637.8 L861.1,1643.7 L862.6,1651.6 L864.0,1660.0 L865.3,1670.2 L866.6,1682.4 L867.9,1693.5 L869.2,1700.4 L870.6,1700.5 L872.0,1696.0 L873.5,1691.1 L875.0,1690.0 L876.6,1695.4 L878.3,1704.5 L879.9,1713.3 L881.5,1718.0 L882.9,1716.0 L884.2,1709.9 L885.6,1703.3 L887.0,1700.0 L888.5,1701.8 L890.1,1706.5 L891.8,1711.5 L893.7,1714.4 L895.8,1714.9 L898.0,1714.1 L900.3,1711.7 L902.5,1707.4 L904.7,1699.0 L906.9,1687.4 L909.1,1676.6 L911.3,1670.6 L913.5,1672.3 L915.7,1678.9 L917.9,1686.2 L920.0,1689.9 L922.0,1688.5 L924.0,1684.3 L925.9,1679.2 L928.0,1675.0 L930.2,1671.2 L932.5,1667.0 L934.8,1664.5 L937.0,1665.3 L939.1,1671.0 L941.1,1680.3 L943.1,1690.7 L945.0,1700.0 L946.7,1708.6 L948.2,1717.5 L949.8,1724.7 L951.7,1728.5 L954.1,1727.3 L956.9,1722.3 L959.7,1716.3 L962.0,1712.0 L963.7,1709.1 L965.0,1706.6 L966.2,1705.7 L967.5,1707.4 L968.9,1713.0 L970.3,1721.5 L971.7,1731.1 L973.0,1740.0 L974.2,1749.6 L975.3,1760.2 L976.5,1768.4 L978.0,1770.6 L979.9,1763.2 L982.1,1749.1 L984.4,1734.2 L986.8,1725.0 L989.4,1724.0 L992.2,1727.6 L994.9,1732.5 L997.3,1735.5 L999.2,1734.7 L1000.8,1732.2 L1002.4,1730.5 L1004.0,1732.0 L1005.7,1739.4 L1007.4,1750.6 L1009.2,1761.3 L1011.3,1767.0 L1013.8,1764.5 L1016.5,1756.9 L1019.3,1749.1 L1021.9,1746.0 L1024.2,1750.4 L1026.4,1759.1 L1028.5,1768.3 L1030.6,1774.0 L1032.7,1774.1 L1034.9,1770.9 L1037.0,1767.6 L1039.0,1767.0 L1040.8,1772.1 L1042.6,1780.7 L1044.3,1787.7 L1046.4,1788.2 L1048.9,1777.4 L1051.6,1759.1 L1054.4,1741.2 L1057.0,1732.0 L1059.4,1736.4 L1061.6,1749.2 L1063.8,1762.9 L1066.0,1770.0 L1068.2,1766.8 L1070.4,1757.8 L1072.5,1748.0 L1074.5,1742.5 L1076.2,1744.2 L1077.7,1749.8 L1079.2,1755.2 L1081.0,1756.0 L1083.1,1748.4 L1085.5,1735.5 L1088.0,1723.8 L1090.3,1719.7 L1092.5,1728.7 L1094.7,1746.2 L1096.8,1763.1 L1099.0,1770.6 L1101.2,1763.3 L1103.4,1747.0 L1105.6,1729.4 L1107.8,1718.0 L1110.1,1715.8 L1112.4,1718.5 L1114.7,1722.7 L1117.0,1725.0 L1119.4,1724.1 L1121.8,1721.8 L1124.2,1719.9 L1126.4,1719.7 L1128.4,1722.6 L1130.4,1727.5 L1132.2,1732.3 L1134.0,1735.0 L1135.7,1733.2 L1137.3,1728.5 L1139.0,1725.3 L1141.0,1728.0 L1143.5,1741.6 L1146.4,1762.5 L1149.2,1782.1 L1151.7,1791.7 L1153.5,1784.4 L1154.8,1766.4 L1156.2,1748.6 L1158.0,1742.0 L1160.6,1754.0 L1163.6,1777.4 L1166.7,1800.7 L1169.3,1812.7 L1171.1,1807.7 L1172.5,1792.7 L1173.9,1775.2 L1176.0,1763.0 L1179.1,1758.4 L1182.7,1757.2 L1186.5,1757.2 L1190.0,1756.0 L1193.1,1752.2 L1196.0,1747.3 L1198.7,1743.4 L1200.9,1742.5 L1202.5,1747.1 L1203.6,1755.4 L1204.6,1763.4 L1206.0,1767.0 L1207.9,1763.3 L1210.1,1755.2 L1212.5,1746.8 L1214.9,1742.5 L1217.1,1744.3 L1219.2,1749.6 L1221.6,1755.7 L1225.0,1760.0 L1229.8,1761.6 L1235.7,1761.9 L1241.6,1761.8 L1246.5,1761.8 L1249.9,1762.0 L1252.4,1762.0 L1254.6,1762.3 L1257.0,1763.0 L1259.7,1763.3 L1262.5,1763.2 L1265.1,1765.0 L1267.6,1770.7 L1269.8,1784.0 L1271.8,1802.8 L1273.7,1820.3 L1275.6,1829.7 L1277.6,1826.0 L1279.6,1814.0 L1281.7,1801.2 L1283.7,1795.0 L1285.6,1799.4 L1287.5,1809.7 L1289.5,1820.6 L1291.7,1827.0 L1294.2,1826.2 L1297.0,1821.3 L1299.8,1815.9 L1302.4,1813.6 L1304.6,1816.4 L1306.5,1822.0 L1308.4,1827.4 L1310.5,1829.7 L1312.9,1827.3 L1315.4,1822.0 L1318.1,1815.9 L1321.0,1811.0 L1324.3,1807.1 L1328.0,1803.4 L1331.5,1800.8 L1334.6,1800.2 L1336.9,1802.6 L1338.6,1807.2 L1340.4,1812.3 L1342.6,1816.0 L1345.7,1817.2 L1349.3,1817.2 L1352.9,1817.3 L1356.0,1819.0 L1358.3,1821.9 L1360.2,1825.5 L1361.9,1831.2 L1364.0,1840.4 L1366.6,1859.1 L1369.4,1884.6 L1372.2,1905.4 L1374.8,1910.0 L1376.8,1889.0 L1378.5,1850.7 L1380.3,1809.9 L1382.8,1781.4 L1386.3,1769.9 L1390.6,1767.3 L1395.0,1769.1 L1399.0,1770.7 L1402.5,1769.4 L1405.8,1768.0 L1409.0,1770.7 L1412.3,1781.4 L1415.8,1806.3 L1419.3,1841.6 L1422.7,1876.3 L1425.7,1899.4 L1428.1,1905.7 L1430.0,1901.9 L1431.8,1894.8 L1433.7,1891.3 L1435.7,1895.0 L1437.6,1901.5 L1439.6,1906.3 L1441.8,1904.7 L1444.2,1892.5 L1446.6,1873.2 L1449.4,1853.6 L1452.5,1840.4 L1456.1,1836.5 L1460.2,1837.8 L1464.4,1841.1 L1468.6,1843.0 L1472.8,1842.3 L1477.2,1841.0 L1481.2,1840.0 L1484.7,1840.4 L1487.3,1843.7 L1489.2,1849.0 L1490.9,1853.3 L1492.7,1853.8 L1494.5,1848.6 L1496.2,1839.7 L1498.2,1829.8 L1500.8,1821.6 L1504.4,1815.3 L1508.7,1809.7 L1513.1,1805.4 L1516.9,1802.9 L1520.0,1803.3 L1522.8,1806.0 L1525.2,1809.1 L1527.6,1811.0 L1529.8,1809.7 L1531.8,1806.8 L1533.7,1805.2 L1535.6,1808.2 L1537.6,1819.8 L1539.6,1837.3 L1541.7,1853.7 L1543.7,1861.8 L1545.7,1856.6 L1547.7,1842.9 L1549.7,1828.6 L1551.7,1821.6 L1553.5,1825.7 L1555.2,1836.2 L1557.1,1848.1 L1559.7,1856.5 L1563.3,1859.8 L1567.7,1860.7 L1572.2,1860.8 L1575.8,1861.8 L1578.3,1862.0 L1580.1,1861.1 L1581.8,1863.3 L1583.8,1872.5 L1586.2,1893.8 L1588.7,1923.8 L1591.5,1953.6 L1594.6,1974.4 L1598.4,1984.5 L1602.8,1988.3 L1607.1,1986.6 L1610.7,1979.8 L1613.2,1964.7 L1615.0,1942.1 L1616.7,1918.9 L1618.7,1902.0 L1621.2,1894.3 L1623.9,1891.8 L1626.7,1891.0 L1629.4,1888.6 L1632.1,1883.4 L1634.9,1877.4 L1637.6,1871.6 L1640.2,1867.2 L1642.9,1864.6 L1645.7,1863.2 L1648.1,1862.4 L1649.8,1861.8" stroke="#000" stroke-width="1.3" fill="none" stroke-linejoin="round" />
<path d="M833.4,1696.9 L840.8,1697.8 L850.7,1698.8 L862.4,1700.0 L875.4,1701.4 L889.3,1703.0 L903.5,1704.9 L917.4,1706.9 L930.6,1709.2 L943.5,1711.8 L956.8,1714.8 L970.3,1718.0 L983.8,1721.5 L997.3,1725.0 L1010.6,1728.6 L1023.5,1732.1 L1035.9,1735.5 L1047.3,1738.7 L1057.7,1741.9 L1067.5,1745.1 L1077.2,1748.2 L1087.2,1751.5 L1098.0,1754.8 L1109.9,1758.2 L1123.6,1761.8 L1137.5,1765.5 L1150.6,1769.1 L1164.0,1772.8 L1178.6,1776.6 L1195.5,1780.7 L1215.6,1784.9 L1240.1,1789.5 L1270.0,1794.5 L1308.9,1800.3 L1357.4,1807.1 L1411.9,1814.4 L1468.8,1821.8 L1524.7,1829.0 L1575.8,1835.5 L1618.5,1841.0 L1649.4,1845.0" stroke="#8a7378" stroke-width="5" fill="none" stroke-linejoin="round" />
<path d="M833.4,1654.8 L840.8,1655.4 L850.7,1655.9 L862.4,1656.6 L875.4,1657.5 L889.3,1658.6 L903.5,1659.9 L917.4,1661.5 L930.6,1663.5 L943.5,1665.9 L956.8,1668.8 L970.3,1672.0 L983.8,1675.5 L997.3,1679.1 L1010.6,1682.8 L1023.5,1686.4 L1035.9,1689.9 L1047.3,1693.3 L1057.7,1696.7 L1067.5,1700.0 L1077.2,1703.5 L1087.2,1706.9 L1098.0,1710.5 L1109.9,1714.2 L1123.6,1718.0 L1137.5,1721.9 L1150.6,1725.8 L1164.0,1729.7 L1178.6,1733.7 L1195.5,1738.0 L1215.6,1742.4 L1240.1,1747.2 L1270.0,1752.3 L1308.9,1758.2 L1357.4,1765.0 L1411.9,1772.3 L1468.8,1779.7 L1524.7,1786.9 L1575.8,1793.4 L1618.5,1798.9 L1649.4,1802.9" stroke="#ff0000" stroke-width="5" fill="none" stroke-linejoin="round" />
<path d="M833.4,1637.2 L840.8,1638.2 L850.7,1639.4 L862.4,1640.8 L875.4,1642.4 L889.3,1644.3 L903.5,1646.3 L917.4,1648.7 L930.6,1651.3 L943.5,1654.3 L956.8,1657.8 L970.3,1661.6 L983.8,1665.6 L997.3,1669.7 L1010.6,1673.7 L1023.5,1677.5 L1035.9,1681.0 L1047.3,1684.1 L1057.7,1687.0 L1067.5,1689.7 L1077.2,1692.3 L1087.2,1695.0 L1098.0,1697.7 L1109.9,1700.7 L1123.6,1703.9 L1137.5,1707.3 L1150.6,1710.7 L1164.0,1714.3 L1178.6,1718.0 L1195.5,1721.9 L1215.6,1726.0 L1240.1,1730.6 L1270.0,1735.5 L1308.9,1741.3 L1357.4,1748.1 L1411.9,1755.4 L1468.8,1762.9 L1524.7,1770.2 L1575.8,1776.8 L1618.5,1782.3 L1649.4,1786.4" stroke="#0000ff" stroke-width="5" fill="none" stroke-linejoin="round" stroke-dasharray="17,8,4,8"/>
</g>
<circle cx="858.6" cy="1636.5" r="5.7" fill="none" stroke="#444" stroke-width="2"/>
<circle cx="911.3" cy="1669.9" r="5.7" fill="none" stroke="#444" stroke-width="2"/>
<circle cx="936.9" cy="1665.3" r="5.7" fill="none" stroke="#444" stroke-width="2"/>
<circle cx="1126.5" cy="1719.7" r="5.7" fill="none" stroke="#444" stroke-width="2"/>
<circle cx="1214.9" cy="1742.5" r="5.7" fill="none" stroke="#444" stroke-width="2"/>
<circle cx="1401.6" cy="1771.6" r="5.7" fill="none" stroke="#444" stroke-width="2"/>
<circle cx="1519.2" cy="1801.5" r="5.7" fill="none" stroke="#444" stroke-width="2"/>
<text transform="translate(871.0,1629.0) rotate(-40)" x="0" y="0" font-size="30" fill="#000" textLength="173" lengthAdjust="spacingAndGlyphs" >0.28 cycles/m</text>
<text transform="translate(923.0,1652.0) rotate(-40)" x="0" y="0" font-size="30" fill="#000" textLength="173" lengthAdjust="spacingAndGlyphs" >0.78 cycles/m</text>
<text transform="translate(950.0,1657.0) rotate(-40)" x="0" y="0" font-size="30" fill="#000" textLength="173" lengthAdjust="spacingAndGlyphs" >1.03 cycles/m</text>
<text transform="translate(1142.0,1705.0) rotate(-40)" x="0" y="0" font-size="30" fill="#000" textLength="173" lengthAdjust="spacingAndGlyphs" >2.87 cycles/m</text>
<text transform="translate(1232.0,1726.0) rotate(-40)" x="0" y="0" font-size="30" fill="#000" textLength="173" lengthAdjust="spacingAndGlyphs" >3.72 cycles/m</text>
<text transform="translate(1418.0,1754.0) rotate(-40)" x="0" y="0" font-size="30" fill="#000" textLength="173" lengthAdjust="spacingAndGlyphs" >5.56 cycles/m</text>
<text transform="translate(1530.0,1801.0) rotate(-40)" x="0" y="0" font-size="30" fill="#000" textLength="173" lengthAdjust="spacingAndGlyphs" >6.17 cycles/m</text>
<line x1="833.4" y1="1634.7" x2="1648.4" y2="1634.7" stroke="#555" stroke-width="1.6" />
<line x1="833.4" y1="1634.7" x2="833.4" y2="2046.7" stroke="#444" stroke-width="1.8" />
<line x1="1648.4" y1="1634.7" x2="1648.4" y2="2046.7" stroke="#555" stroke-width="1.6" />
<line x1="833.4" y1="1653.4" x2="842.1" y2="1653.4" stroke="#444" stroke-width="1.4" />
<line x1="1648.4" y1="1653.4" x2="1639.7" y2="1653.4" stroke="#555" stroke-width="1.4" />
<line x1="833.4" y1="1784.5" x2="842.1" y2="1784.5" stroke="#444" stroke-width="1.4" />
<line x1="1648.4" y1="1784.5" x2="1639.7" y2="1784.5" stroke="#555" stroke-width="1.4" />
<line x1="833.4" y1="1745.0" x2="837.9" y2="1745.0" stroke="#444" stroke-width="1.4" />
<line x1="1648.4" y1="1745.0" x2="1643.9" y2="1745.0" stroke="#555" stroke-width="1.4" />
<line x1="833.4" y1="1721.9" x2="837.9" y2="1721.9" stroke="#444" stroke-width="1.4" />
<line x1="1648.4" y1="1721.9" x2="1643.9" y2="1721.9" stroke="#555" stroke-width="1.4" />
<line x1="833.4" y1="1705.6" x2="837.9" y2="1705.6" stroke="#444" stroke-width="1.4" />
<line x1="1648.4" y1="1705.6" x2="1643.9" y2="1705.6" stroke="#555" stroke-width="1.4" />
<line x1="833.4" y1="1692.9" x2="837.9" y2="1692.9" stroke="#444" stroke-width="1.4" />
<line x1="1648.4" y1="1692.9" x2="1643.9" y2="1692.9" stroke="#555" stroke-width="1.4" />
<line x1="833.4" y1="1682.5" x2="837.9" y2="1682.5" stroke="#444" stroke-width="1.4" />
<line x1="1648.4" y1="1682.5" x2="1643.9" y2="1682.5" stroke="#555" stroke-width="1.4" />
<line x1="833.4" y1="1673.7" x2="837.9" y2="1673.7" stroke="#444" stroke-width="1.4" />
<line x1="1648.4" y1="1673.7" x2="1643.9" y2="1673.7" stroke="#555" stroke-width="1.4" />
<line x1="833.4" y1="1666.1" x2="837.9" y2="1666.1" stroke="#444" stroke-width="1.4" />
<line x1="1648.4" y1="1666.1" x2="1643.9" y2="1666.1" stroke="#555" stroke-width="1.4" />
<line x1="833.4" y1="1659.4" x2="837.9" y2="1659.4" stroke="#444" stroke-width="1.4" />
<line x1="1648.4" y1="1659.4" x2="1643.9" y2="1659.4" stroke="#555" stroke-width="1.4" />
<line x1="833.4" y1="1915.6" x2="842.1" y2="1915.6" stroke="#444" stroke-width="1.4" />
<line x1="1648.4" y1="1915.6" x2="1639.7" y2="1915.6" stroke="#555" stroke-width="1.4" />
<line x1="833.4" y1="1876.1" x2="837.9" y2="1876.1" stroke="#444" stroke-width="1.4" />
<line x1="1648.4" y1="1876.1" x2="1643.9" y2="1876.1" stroke="#555" stroke-width="1.4" />
<line x1="833.4" y1="1853.0" x2="837.9" y2="1853.0" stroke="#444" stroke-width="1.4" />
<line x1="1648.4" y1="1853.0" x2="1643.9" y2="1853.0" stroke="#555" stroke-width="1.4" />
<line x1="833.4" y1="1836.7" x2="837.9" y2="1836.7" stroke="#444" stroke-width="1.4" />
<line x1="1648.4" y1="1836.7" x2="1643.9" y2="1836.7" stroke="#555" stroke-width="1.4" />
<line x1="833.4" y1="1824.0" x2="837.9" y2="1824.0" stroke="#444" stroke-width="1.4" />
<line x1="1648.4" y1="1824.0" x2="1643.9" y2="1824.0" stroke="#555" stroke-width="1.4" />
<line x1="833.4" y1="1813.6" x2="837.9" y2="1813.6" stroke="#444" stroke-width="1.4" />
<line x1="1648.4" y1="1813.6" x2="1643.9" y2="1813.6" stroke="#555" stroke-width="1.4" />
<line x1="833.4" y1="1804.8" x2="837.9" y2="1804.8" stroke="#444" stroke-width="1.4" />
<line x1="1648.4" y1="1804.8" x2="1643.9" y2="1804.8" stroke="#555" stroke-width="1.4" />
<line x1="833.4" y1="1797.2" x2="837.9" y2="1797.2" stroke="#444" stroke-width="1.4" />
<line x1="1648.4" y1="1797.2" x2="1643.9" y2="1797.2" stroke="#555" stroke-width="1.4" />
<line x1="833.4" y1="1790.5" x2="837.9" y2="1790.5" stroke="#444" stroke-width="1.4" />
<line x1="1648.4" y1="1790.5" x2="1643.9" y2="1790.5" stroke="#555" stroke-width="1.4" />
<line x1="833.4" y1="2046.7" x2="842.1" y2="2046.7" stroke="#444" stroke-width="1.4" />
<line x1="1648.4" y1="2046.7" x2="1639.7" y2="2046.7" stroke="#555" stroke-width="1.4" />
<line x1="833.4" y1="2007.2" x2="837.9" y2="2007.2" stroke="#444" stroke-width="1.4" />
<line x1="1648.4" y1="2007.2" x2="1643.9" y2="2007.2" stroke="#555" stroke-width="1.4" />
<line x1="833.4" y1="1984.1" x2="837.9" y2="1984.1" stroke="#444" stroke-width="1.4" />
<line x1="1648.4" y1="1984.1" x2="1643.9" y2="1984.1" stroke="#555" stroke-width="1.4" />
<line x1="833.4" y1="1967.8" x2="837.9" y2="1967.8" stroke="#444" stroke-width="1.4" />
<line x1="1648.4" y1="1967.8" x2="1643.9" y2="1967.8" stroke="#555" stroke-width="1.4" />
<line x1="833.4" y1="1955.1" x2="837.9" y2="1955.1" stroke="#444" stroke-width="1.4" />
<line x1="1648.4" y1="1955.1" x2="1643.9" y2="1955.1" stroke="#555" stroke-width="1.4" />
<line x1="833.4" y1="1944.7" x2="837.9" y2="1944.7" stroke="#444" stroke-width="1.4" />
<line x1="1648.4" y1="1944.7" x2="1643.9" y2="1944.7" stroke="#555" stroke-width="1.4" />
<line x1="833.4" y1="1935.9" x2="837.9" y2="1935.9" stroke="#444" stroke-width="1.4" />
<line x1="1648.4" y1="1935.9" x2="1643.9" y2="1935.9" stroke="#555" stroke-width="1.4" />
<line x1="833.4" y1="1928.3" x2="837.9" y2="1928.3" stroke="#444" stroke-width="1.4" />
<line x1="1648.4" y1="1928.3" x2="1643.9" y2="1928.3" stroke="#555" stroke-width="1.4" />
<line x1="833.4" y1="1921.6" x2="837.9" y2="1921.6" stroke="#444" stroke-width="1.4" />
<line x1="1648.4" y1="1921.6" x2="1643.9" y2="1921.6" stroke="#555" stroke-width="1.4" />
<line x1="853.8" y1="2046.7" x2="853.8" y2="2040.7" stroke="#555" stroke-width="1.4" />
<line x1="874.1" y1="2046.7" x2="874.1" y2="2040.7" stroke="#555" stroke-width="1.4" />
<line x1="894.5" y1="2046.7" x2="894.5" y2="2040.7" stroke="#555" stroke-width="1.4" />
<line x1="914.9" y1="2046.7" x2="914.9" y2="2040.7" stroke="#555" stroke-width="1.4" />
<line x1="935.3" y1="2046.7" x2="935.3" y2="2040.7" stroke="#555" stroke-width="1.4" />
<line x1="955.6" y1="2046.7" x2="955.6" y2="2040.7" stroke="#555" stroke-width="1.4" />
<line x1="976.0" y1="2046.7" x2="976.0" y2="2040.7" stroke="#555" stroke-width="1.4" />
<line x1="996.4" y1="2046.7" x2="996.4" y2="2040.7" stroke="#555" stroke-width="1.4" />
<line x1="1016.8" y1="2046.7" x2="1016.8" y2="2040.7" stroke="#555" stroke-width="1.4" />
<line x1="1037.2" y1="2046.7" x2="1037.2" y2="2040.7" stroke="#555" stroke-width="1.4" />
<line x1="1057.5" y1="2046.7" x2="1057.5" y2="2040.7" stroke="#555" stroke-width="1.4" />
<line x1="1077.9" y1="2046.7" x2="1077.9" y2="2040.7" stroke="#555" stroke-width="1.4" />
<line x1="1098.3" y1="2046.7" x2="1098.3" y2="2040.7" stroke="#555" stroke-width="1.4" />
<line x1="1118.7" y1="2046.7" x2="1118.7" y2="2040.7" stroke="#555" stroke-width="1.4" />
<line x1="1139.0" y1="2046.7" x2="1139.0" y2="2040.7" stroke="#555" stroke-width="1.4" />
<line x1="1159.4" y1="2046.7" x2="1159.4" y2="2040.7" stroke="#555" stroke-width="1.4" />
<line x1="1179.8" y1="2046.7" x2="1179.8" y2="2040.7" stroke="#555" stroke-width="1.4" />
<line x1="1200.2" y1="2046.7" x2="1200.2" y2="2040.7" stroke="#555" stroke-width="1.4" />
<line x1="1220.5" y1="2046.7" x2="1220.5" y2="2040.7" stroke="#555" stroke-width="1.4" />
<line x1="1240.9" y1="2046.7" x2="1240.9" y2="2040.7" stroke="#555" stroke-width="1.4" />
<line x1="1261.3" y1="2046.7" x2="1261.3" y2="2040.7" stroke="#555" stroke-width="1.4" />
<line x1="1281.7" y1="2046.7" x2="1281.7" y2="2040.7" stroke="#555" stroke-width="1.4" />
<line x1="1302.0" y1="2046.7" x2="1302.0" y2="2040.7" stroke="#555" stroke-width="1.4" />
<line x1="1322.4" y1="2046.7" x2="1322.4" y2="2040.7" stroke="#555" stroke-width="1.4" />
<line x1="1342.8" y1="2046.7" x2="1342.8" y2="2040.7" stroke="#555" stroke-width="1.4" />
<line x1="1363.2" y1="2046.7" x2="1363.2" y2="2040.7" stroke="#555" stroke-width="1.4" />
<line x1="1383.5" y1="2046.7" x2="1383.5" y2="2040.7" stroke="#555" stroke-width="1.4" />
<line x1="1403.9" y1="2046.7" x2="1403.9" y2="2040.7" stroke="#555" stroke-width="1.4" />
<line x1="1424.3" y1="2046.7" x2="1424.3" y2="2040.7" stroke="#555" stroke-width="1.4" />
<line x1="1444.7" y1="2046.7" x2="1444.7" y2="2040.7" stroke="#555" stroke-width="1.4" />
<line x1="1465.0" y1="2046.7" x2="1465.0" y2="2040.7" stroke="#555" stroke-width="1.4" />
<line x1="1485.4" y1="2046.7" x2="1485.4" y2="2040.7" stroke="#555" stroke-width="1.4" />
<line x1="1505.8" y1="2046.7" x2="1505.8" y2="2040.7" stroke="#555" stroke-width="1.4" />
<line x1="1526.2" y1="2046.7" x2="1526.2" y2="2040.7" stroke="#555" stroke-width="1.4" />
<line x1="1546.5" y1="2046.7" x2="1546.5" y2="2040.7" stroke="#555" stroke-width="1.4" />
<line x1="1566.9" y1="2046.7" x2="1566.9" y2="2040.7" stroke="#555" stroke-width="1.4" />
<line x1="1587.3" y1="2046.7" x2="1587.3" y2="2040.7" stroke="#555" stroke-width="1.4" />
<line x1="1607.7" y1="2046.7" x2="1607.7" y2="2040.7" stroke="#555" stroke-width="1.4" />
<line x1="1628.0" y1="2046.7" x2="1628.0" y2="2040.7" stroke="#555" stroke-width="1.4" />
<text x="778.5" y="1666.6" font-size="21.5" fill="#333" textLength="24.2" lengthAdjust="spacingAndGlyphs" >10</text>
<text x="803.7" y="1654.1" font-size="19" fill="#333" textLength="16" lengthAdjust="spacingAndGlyphs" >-1</text>
<text x="778.5" y="1796.7" font-size="21.5" fill="#333" textLength="24.2" lengthAdjust="spacingAndGlyphs" >10</text>
<text x="803.7" y="1784.2" font-size="19" fill="#333" textLength="16" lengthAdjust="spacingAndGlyphs" >-2</text>
<text x="778.5" y="1927.8" font-size="21.5" fill="#333" textLength="24.2" lengthAdjust="spacingAndGlyphs" >10</text>
<text x="803.7" y="1915.3" font-size="19" fill="#333" textLength="16" lengthAdjust="spacingAndGlyphs" >-3</text>
<text x="778.5" y="2058.8" font-size="21.5" fill="#333" textLength="24.2" lengthAdjust="spacingAndGlyphs" >10</text>
<text x="803.7" y="2046.3" font-size="19" fill="#333" textLength="16" lengthAdjust="spacingAndGlyphs" >-4</text>
<text x="735.8" y="1630.0" font-size="58" fill="#333" font-weight="bold" textLength="45" lengthAdjust="spacingAndGlyphs" >e)</text>
<text transform="translate(777.5,1877.3) rotate(-90)" x="0" y="0" font-size="30" fill="#333" textLength="80.7" lengthAdjust="spacingAndGlyphs" >Power</text>
<text transform="translate(1694.5,2030.8) rotate(-90)" x="0" y="0" font-size="35" fill="#444" textLength="370" lengthAdjust="spacingAndGlyphs" >2π-MTM Robust-AR(1):</text>
<text transform="translate(1733.8,2058.0) rotate(-90)" x="0" y="0" font-size="35" fill="#444" textLength="428.6" lengthAdjust="spacingAndGlyphs" >ρ = 0.63; S0=0.01; bw = 0.5</text>
<filter id="jet" x="-2%" y="-2%" width="104%" height="104%" color-interpolation-filters="sRGB">
<feGaussianBlur in="SourceGraphic" stdDeviation="3.5 3.5" result="b"/>
<feTurbulence type="fractalNoise" baseFrequency="0.012 0.09" numOctaves="2" seed="7" result="n"/>
<feColorMatrix in="n" type="matrix" values="1 0 0 0 0  1 0 0 0 0  1 0 0 0 0  0 0 0 0 1" result="ng"/>
<feComposite in="b" in2="ng" operator="arithmetic" k1="0" k2="1" k3="0.14" k4="-0.06" result="c"/>
<feComponentTransfer in="c">
<feFuncR type="table" tableValues="0.5 0.5 0.5 0.5 0.75 1 1 1 0.75"/>
<feFuncG type="table" tableValues="0.5 0.5 0.75 1 1 1 0.75 0.5 0.5"/>
<feFuncB type="table" tableValues="0.75 1 1 1 0.75 0.5 0.5 0.5 0.5"/>
</feComponentTransfer></filter>
<filter id="cblur" x="-5%" y="-5%" width="110%" height="110%" color-interpolation-filters="sRGB"><feGaussianBlur stdDeviation="4.5 9"/></filter>
<filter id="gblur" x="-10%" y="-10%" width="120%" height="120%" color-interpolation-filters="sRGB"><feGaussianBlur stdDeviation="14 10"/></filter>
<clipPath id="clipC"><rect x="833.4" y="544.7" width="815.0000000000001" height="756.5999999999999"/></clipPath>
<g clip-path="url(#clipC)"><g filter="url(#jet)" style="isolation:isolate">
<g filter="url(#cblur)">
<rect x="803.4" y="514.7" width="875.0000000000001" height="816.5999999999999" fill="rgb(27,27,27)"/>
<rect x="803.4" y="514.7" width="41.60000000000002" height="816.5999999999999" fill="rgb(5,5,5)"/>
<rect x="845" y="514.7" width="35" height="50.299999999999955" fill="rgb(92,92,92)"/>
<rect x="845" y="565" width="35" height="155" fill="rgb(31,31,31)"/>
<rect x="845" y="720" width="35" height="270" fill="rgb(102,102,102)"/>
<rect x="845" y="990" width="35" height="130" fill="rgb(84,84,84)"/>
<rect x="845" y="1120" width="35" height="211.29999999999995" fill="rgb(102,102,102)"/>
<rect x="880" y="514.7" width="25" height="81.29999999999995" fill="rgb(27,27,27)"/>
<rect x="880" y="596" width="25" height="44" fill="rgb(65,65,65)"/>
<rect x="880" y="640" width="25" height="80" fill="rgb(31,31,31)"/>
<rect x="880" y="720" width="25" height="160" fill="rgb(128,128,128)"/>
<rect x="880" y="880" width="25" height="120" fill="rgb(82,82,82)"/>
<rect x="880" y="1000" width="25" height="140" fill="rgb(89,89,89)"/>
<rect x="880" y="1140" width="25" height="125" fill="rgb(27,27,27)"/>
<rect x="880" y="1265" width="25" height="66.29999999999995" fill="rgb(102,102,102)"/>
<rect x="905" y="514.7" width="20" height="85.29999999999995" fill="rgb(133,133,133)"/>
<rect x="905" y="600" width="20" height="120" fill="rgb(97,97,97)"/>
<rect x="905" y="720" width="20" height="150" fill="rgb(128,128,128)"/>
<rect x="905" y="870" width="20" height="53" fill="rgb(38,38,38)"/>
<rect x="905" y="923" width="20" height="77" fill="rgb(89,89,89)"/>
<rect x="905" y="1000" width="20" height="150" fill="rgb(84,84,84)"/>
<rect x="905" y="1150" width="20" height="181.29999999999995" fill="rgb(46,46,46)"/>
<rect x="925" y="514.7" width="60" height="285.29999999999995" fill="rgb(115,115,115)"/>
<rect x="925" y="800" width="60" height="65" fill="rgb(140,140,140)"/>
<rect x="925" y="865" width="60" height="125" fill="rgb(76,76,76)"/>
<rect x="925" y="990" width="60" height="60" fill="rgb(115,115,115)"/>
<rect x="925" y="1050" width="60" height="100" fill="rgb(89,89,89)"/>
<rect x="925" y="1150" width="60" height="124" fill="rgb(19,19,19)"/>
<rect x="925" y="1274" width="60" height="57.299999999999955" fill="rgb(89,89,89)"/>
<rect x="985" y="514.7" width="12" height="135.29999999999995" fill="rgb(107,107,107)"/>
<rect x="985" y="650" width="12" height="155" fill="rgb(19,19,19)"/>
<rect x="985" y="805" width="12" height="60" fill="rgb(140,140,140)"/>
<rect x="985" y="865" width="12" height="285" fill="rgb(115,115,115)"/>
<rect x="985" y="1150" width="12" height="100" fill="rgb(89,89,89)"/>
<rect x="985" y="1250" width="12" height="81.29999999999995" fill="rgb(128,128,128)"/>
<rect x="997" y="514.7" width="44" height="125.29999999999995" fill="rgb(128,128,128)"/>
<rect x="997" y="640" width="44" height="60" fill="rgb(115,115,115)"/>
<rect x="997" y="700" width="44" height="96" fill="rgb(69,69,69)"/>
<rect x="997" y="796" width="44" height="69" fill="rgb(148,148,148)"/>
<rect x="997" y="865" width="44" height="122" fill="rgb(46,46,46)"/>
<rect x="997" y="987" width="44" height="61" fill="rgb(153,153,153)"/>
<rect x="997" y="1048" width="44" height="95" fill="rgb(128,128,128)"/>
<rect x="997" y="1143" width="44" height="107" fill="rgb(102,102,102)"/>
<rect x="997" y="1250" width="44" height="81.29999999999995" fill="rgb(128,128,128)"/>
<rect x="1041" y="514.7" width="18" height="185.29999999999995" fill="rgb(27,27,27)"/>
<rect x="1041" y="700" width="18" height="96" fill="rgb(97,97,97)"/>
<rect x="1041" y="796" width="18" height="95" fill="rgb(76,76,76)"/>
<rect x="1041" y="891" width="18" height="252" fill="rgb(128,128,128)"/>
<rect x="1041" y="1143" width="18" height="87" fill="rgb(107,107,107)"/>
<rect x="1041" y="1230" width="18" height="101.29999999999995" fill="rgb(115,115,115)"/>
<rect x="1059" y="514.7" width="12" height="185.29999999999995" fill="rgb(97,97,97)"/>
<rect x="1059" y="700" width="12" height="96" fill="rgb(89,89,89)"/>
<rect x="1059" y="796" width="12" height="95" fill="rgb(76,76,76)"/>
<rect x="1059" y="891" width="12" height="252" fill="rgb(128,128,128)"/>
<rect x="1059" y="1143" width="12" height="87" fill="rgb(107,107,107)"/>
<rect x="1059" y="1230" width="12" height="101.29999999999995" fill="rgb(115,115,115)"/>
<rect x="1071" y="514.7" width="34" height="125.29999999999995" fill="rgb(153,153,153)"/>
<rect x="1071" y="640" width="34" height="80" fill="rgb(133,133,133)"/>
<rect x="1071" y="720" width="34" height="76" fill="rgb(89,89,89)"/>
<rect x="1071" y="796" width="34" height="74" fill="rgb(82,82,82)"/>
<rect x="1071" y="870" width="34" height="178" fill="rgb(57,57,57)"/>
<rect x="1071" y="1048" width="34" height="92" fill="rgb(38,38,38)"/>
<rect x="1071" y="1140" width="34" height="95" fill="rgb(102,102,102)"/>
<rect x="1071" y="1235" width="34" height="96.29999999999995" fill="rgb(115,115,115)"/>
<rect x="1105" y="514.7" width="40" height="105.29999999999995" fill="rgb(140,140,140)"/>
<rect x="1105" y="620" width="40" height="100" fill="rgb(122,122,122)"/>
<rect x="1105" y="720" width="40" height="76" fill="rgb(76,76,76)"/>
<rect x="1105" y="796" width="40" height="74" fill="rgb(69,69,69)"/>
<rect x="1105" y="870" width="40" height="178" fill="rgb(38,38,38)"/>
<rect x="1105" y="1048" width="40" height="72" fill="rgb(31,31,31)"/>
<rect x="1105" y="1120" width="40" height="25" fill="rgb(76,76,76)"/>
<rect x="1105" y="1145" width="40" height="65" fill="rgb(46,46,46)"/>
<rect x="1105" y="1210" width="40" height="121.29999999999995" fill="rgb(57,57,57)"/>
<rect x="1145" y="514.7" width="17" height="408.29999999999995" fill="rgb(19,19,19)"/>
<rect x="1145" y="923" width="17" height="205" fill="rgb(27,27,27)"/>
<rect x="1145" y="1128" width="17" height="12" fill="rgb(92,92,92)"/>
<rect x="1145" y="1140" width="17" height="191.29999999999995" fill="rgb(19,19,19)"/>
<rect x="1162" y="514.7" width="38" height="90.29999999999995" fill="rgb(140,140,140)"/>
<rect x="1162" y="605" width="38" height="78" fill="rgb(107,107,107)"/>
<rect x="1162" y="683" width="38" height="113" fill="rgb(76,76,76)"/>
<rect x="1162" y="796" width="38" height="252" fill="rgb(65,65,65)"/>
<rect x="1162" y="1048" width="38" height="80" fill="rgb(38,38,38)"/>
<rect x="1162" y="1128" width="38" height="12" fill="rgb(92,92,92)"/>
<rect x="1162" y="1140" width="38" height="116" fill="rgb(15,15,15)"/>
<rect x="1162" y="1256" width="38" height="75.29999999999995" fill="rgb(69,69,69)"/>
<rect x="1200" y="514.7" width="26" height="81.29999999999995" fill="rgb(107,107,107)"/>
<rect x="1200" y="596" width="26" height="122" fill="rgb(38,38,38)"/>
<rect x="1200" y="718" width="26" height="410" fill="rgb(31,31,31)"/>
<rect x="1200" y="1128" width="26" height="12" fill="rgb(92,92,92)"/>
<rect x="1200" y="1140" width="26" height="116" fill="rgb(8,8,8)"/>
<rect x="1200" y="1256" width="26" height="75.29999999999995" fill="rgb(82,82,82)"/>
<rect x="1226" y="514.7" width="15" height="168.29999999999995" fill="rgb(97,97,97)"/>
<rect x="1226" y="683" width="15" height="35" fill="rgb(57,57,57)"/>
<rect x="1226" y="718" width="15" height="147" fill="rgb(115,115,115)"/>
<rect x="1226" y="865" width="15" height="122" fill="rgb(76,76,76)"/>
<rect x="1226" y="987" width="15" height="141" fill="rgb(27,27,27)"/>
<rect x="1226" y="1128" width="15" height="12" fill="rgb(92,92,92)"/>
<rect x="1226" y="1140" width="15" height="116" fill="rgb(19,19,19)"/>
<rect x="1226" y="1256" width="15" height="75.29999999999995" fill="rgb(97,97,97)"/>
<rect x="1241" y="514.7" width="15" height="185.29999999999995" fill="rgb(107,107,107)"/>
<rect x="1241" y="700" width="15" height="165" fill="rgb(115,115,115)"/>
<rect x="1241" y="865" width="15" height="122" fill="rgb(92,92,92)"/>
<rect x="1241" y="987" width="15" height="141" fill="rgb(38,38,38)"/>
<rect x="1241" y="1128" width="15" height="12" fill="rgb(92,92,92)"/>
<rect x="1241" y="1140" width="15" height="116" fill="rgb(19,19,19)"/>
<rect x="1241" y="1256" width="15" height="75.29999999999995" fill="rgb(107,107,107)"/>
<rect x="1256" y="514.7" width="19" height="220.29999999999995" fill="rgb(31,31,31)"/>
<rect x="1256" y="735" width="19" height="130" fill="rgb(107,107,107)"/>
<rect x="1256" y="865" width="19" height="122" fill="rgb(92,92,92)"/>
<rect x="1256" y="987" width="19" height="113" fill="rgb(27,27,27)"/>
<rect x="1256" y="1100" width="19" height="70" fill="rgb(76,76,76)"/>
<rect x="1256" y="1170" width="19" height="86" fill="rgb(38,38,38)"/>
<rect x="1256" y="1256" width="19" height="75.29999999999995" fill="rgb(128,128,128)"/>
<rect x="1275" y="514.7" width="26" height="151.29999999999995" fill="rgb(102,102,102)"/>
<rect x="1275" y="666" width="26" height="69" fill="rgb(76,76,76)"/>
<rect x="1275" y="735" width="26" height="130" fill="rgb(115,115,115)"/>
<rect x="1275" y="865" width="26" height="122" fill="rgb(97,97,97)"/>
<rect x="1275" y="987" width="26" height="113" fill="rgb(27,27,27)"/>
<rect x="1275" y="1100" width="26" height="70" fill="rgb(97,97,97)"/>
<rect x="1275" y="1170" width="26" height="86" fill="rgb(57,57,57)"/>
<rect x="1275" y="1256" width="26" height="75.29999999999995" fill="rgb(140,140,140)"/>
<rect x="1301" y="514.7" width="18" height="220.29999999999995" fill="rgb(11,11,11)"/>
<rect x="1301" y="735" width="18" height="130" fill="rgb(89,89,89)"/>
<rect x="1301" y="865" width="18" height="235" fill="rgb(27,27,27)"/>
<rect x="1301" y="1100" width="18" height="70" fill="rgb(84,84,84)"/>
<rect x="1301" y="1170" width="18" height="86" fill="rgb(38,38,38)"/>
<rect x="1301" y="1256" width="18" height="75.29999999999995" fill="rgb(128,128,128)"/>
<rect x="1319" y="514.7" width="34" height="185.29999999999995" fill="rgb(97,97,97)"/>
<rect x="1319" y="700" width="34" height="165" fill="rgb(115,115,115)"/>
<rect x="1319" y="865" width="34" height="105" fill="rgb(61,61,61)"/>
<rect x="1319" y="970" width="34" height="52" fill="rgb(8,8,8)"/>
<rect x="1319" y="1022" width="34" height="234" fill="rgb(27,27,27)"/>
<rect x="1319" y="1256" width="34" height="75.29999999999995" fill="rgb(97,97,97)"/>
<rect x="1353" y="514.7" width="16" height="408.29999999999995" fill="rgb(27,27,27)"/>
<rect x="1353" y="923" width="16" height="333" fill="rgb(27,27,27)"/>
<rect x="1353" y="1256" width="16" height="75.29999999999995" fill="rgb(92,92,92)"/>
<rect x="1369" y="514.7" width="41" height="368.29999999999995" fill="rgb(107,107,107)"/>
<rect x="1369" y="883" width="41" height="208" fill="rgb(31,31,31)"/>
<rect x="1369" y="1091" width="41" height="96" fill="rgb(61,61,61)"/>
<rect x="1369" y="1187" width="41" height="52" fill="rgb(38,38,38)"/>
<rect x="1369" y="1239" width="41" height="92.29999999999995" fill="rgb(92,92,92)"/>
<rect x="1410" y="514.7" width="18" height="576.3" fill="rgb(38,38,38)"/>
<rect x="1410" y="1091" width="18" height="96" fill="rgb(57,57,57)"/>
<rect x="1410" y="1187" width="18" height="52" fill="rgb(27,27,27)"/>
<rect x="1410" y="1239" width="18" height="92.29999999999995" fill="rgb(97,97,97)"/>
<rect x="1428" y="514.7" width="34" height="385.29999999999995" fill="rgb(84,84,84)"/>
<rect x="1428" y="900" width="34" height="191" fill="rgb(31,31,31)"/>
<rect x="1428" y="1091" width="34" height="96" fill="rgb(69,69,69)"/>
<rect x="1428" y="1187" width="34" height="52" fill="rgb(31,31,31)"/>
<rect x="1428" y="1239" width="34" height="92.29999999999995" fill="rgb(76,76,76)"/>
<rect x="1462" y="514.7" width="39" height="576.3" fill="rgb(23,23,23)"/>
<rect x="1462" y="1091" width="39" height="96" fill="rgb(57,57,57)"/>
<rect x="1462" y="1187" width="39" height="144.29999999999995" fill="rgb(34,34,34)"/>
<rect x="1501" y="514.7" width="47" height="385.29999999999995" fill="rgb(84,84,84)"/>
<rect x="1501" y="900" width="47" height="431.29999999999995" fill="rgb(38,38,38)"/>
<rect x="1548" y="514.7" width="32" height="816.5999999999999" fill="rgb(23,23,23)"/>
<rect x="1580" y="514.7" width="13" height="816.5999999999999" fill="rgb(46,46,46)"/>
<rect x="1593" y="514.7" width="32" height="816.5999999999999" fill="rgb(19,19,19)"/>
<rect x="1625" y="514.7" width="54" height="816.5999999999999" fill="rgb(31,31,31)"/>
</g>
<ellipse cx="895" cy="618" rx="8" ry="22" fill="rgb(69,69,69)" style="mix-blend-mode:lighten"/>
<ellipse cx="920" cy="572" rx="10" ry="24" fill="rgb(148,148,148)" style="mix-blend-mode:lighten"/>
<path d="M956,530 L957,640 L958,700 L964,790" stroke="rgb(153,153,153)" stroke-width="44" fill="none" stroke-linecap="round" stroke-linejoin="round" style="mix-blend-mode:lighten"/>
<path d="M956,530 L957,640 L958,700 L964,790" stroke="rgb(222,222,222)" stroke-width="28" fill="none" stroke-linecap="round" stroke-linejoin="round" style="mix-blend-mode:lighten"/>
<ellipse cx="955" cy="558" rx="10" ry="14" fill="rgb(242,242,242)" style="mix-blend-mode:lighten"/>
<ellipse cx="1024" cy="562" rx="9" ry="8" fill="rgb(153,153,153)" style="mix-blend-mode:lighten"/>
<rect x="1071" y="530" width="69" height="75" fill="rgb(217,217,217)" style="mix-blend-mode:lighten"/>
<rect x="1076" y="530" width="29" height="31" fill="rgb(242,242,242)" style="mix-blend-mode:lighten"/>
<rect x="1076" y="600" width="24" height="40" fill="rgb(204,204,204)" style="mix-blend-mode:lighten"/>
<path d="M1085,640 L1085,674" stroke="rgb(148,148,148)" stroke-width="18" fill="none" stroke-linecap="round" stroke-linejoin="round" style="mix-blend-mode:lighten"/>
<ellipse cx="890" cy="745" rx="6" ry="6" fill="rgb(158,158,158)" style="mix-blend-mode:lighten"/>
<ellipse cx="916" cy="745" rx="6" ry="6" fill="rgb(158,158,158)" style="mix-blend-mode:lighten"/>
<ellipse cx="890" cy="768" rx="6" ry="6" fill="rgb(158,158,158)" style="mix-blend-mode:lighten"/>
<ellipse cx="916" cy="771" rx="6" ry="6" fill="rgb(158,158,158)" style="mix-blend-mode:lighten"/>
<path d="M862,722 L864,760 L866,800 L875,850 L870,900 L868,944 L868,990" stroke="rgb(153,153,153)" stroke-width="36" fill="none" stroke-linecap="round" stroke-linejoin="round" style="mix-blend-mode:lighten"/>
<path d="M862,722 L864,760 L866,800 L875,850 L870,900 L868,944" stroke="rgb(222,222,222)" stroke-width="20" fill="none" stroke-linecap="round" stroke-linejoin="round" style="mix-blend-mode:lighten"/>
<ellipse cx="1045" cy="719" rx="6" ry="6" fill="rgb(166,166,166)" style="mix-blend-mode:lighten"/>
<ellipse cx="1078" cy="719" rx="6" ry="6" fill="rgb(166,166,166)" style="mix-blend-mode:lighten"/>
<ellipse cx="1020" cy="770" rx="6" ry="6" fill="rgb(153,153,153)" style="mix-blend-mode:lighten"/>
<ellipse cx="1053" cy="777" rx="6" ry="6" fill="rgb(153,153,153)" style="mix-blend-mode:lighten"/>
<ellipse cx="1083" cy="775" rx="6" ry="6" fill="rgb(153,153,153)" style="mix-blend-mode:lighten"/>
<ellipse cx="1119" cy="648" rx="6" ry="6" fill="rgb(153,153,153)" style="mix-blend-mode:lighten"/>
<ellipse cx="1119" cy="666" rx="6" ry="6" fill="rgb(153,153,153)" style="mix-blend-mode:lighten"/>
<ellipse cx="1183" cy="579" rx="14" ry="20" fill="rgb(153,153,153)" style="mix-blend-mode:lighten"/>
<ellipse cx="1240" cy="596" rx="8" ry="8" fill="rgb(128,128,128)" style="mix-blend-mode:lighten"/>
<ellipse cx="1131" cy="726" rx="8" ry="6" fill="rgb(153,153,153)" style="mix-blend-mode:lighten"/>
<ellipse cx="1169" cy="731" rx="8" ry="6" fill="rgb(153,153,153)" style="mix-blend-mode:lighten"/>
<ellipse cx="1258" cy="778" rx="7" ry="7" fill="rgb(153,153,153)" style="mix-blend-mode:lighten"/>
<ellipse cx="1296" cy="761" rx="7" ry="7" fill="rgb(153,153,153)" style="mix-blend-mode:lighten"/>
<ellipse cx="1296" cy="787" rx="7" ry="7" fill="rgb(153,153,153)" style="mix-blend-mode:lighten"/>
<ellipse cx="1339" cy="770" rx="7" ry="7" fill="rgb(140,140,140)" style="mix-blend-mode:lighten"/>
<ellipse cx="1391" cy="570" rx="10" ry="14" fill="rgb(128,128,128)" style="mix-blend-mode:lighten"/>
<ellipse cx="1420" cy="726" rx="10" ry="8" fill="rgb(128,128,128)" style="mix-blend-mode:lighten"/>
<rect x="1555" y="590" width="75" height="8" fill="rgb(57,57,57)" style="mix-blend-mode:lighten"/>
<ellipse cx="935" cy="840" rx="40" ry="12" fill="rgb(166,166,166)" style="mix-blend-mode:lighten"/>
<ellipse cx="1013" cy="827" rx="7" ry="7" fill="rgb(204,204,204)" style="mix-blend-mode:lighten"/>
<ellipse cx="925" cy="926" rx="6" ry="7" fill="rgb(153,153,153)" style="mix-blend-mode:lighten"/>
<ellipse cx="951" cy="935" rx="12" ry="30" fill="rgb(31,31,31)"/>
<path d="M1001,865 L1001,1143" stroke="rgb(153,153,153)" stroke-width="38" fill="none" stroke-linecap="round" stroke-linejoin="round" style="mix-blend-mode:lighten"/>
<path d="M1001,900 L1001,1143" stroke="rgb(222,222,222)" stroke-width="20" fill="none" stroke-linecap="round" stroke-linejoin="round" style="mix-blend-mode:lighten"/>
<path d="M1057,891 L1054,1000 L1058,1080 L1061,1143" stroke="rgb(153,153,153)" stroke-width="30" fill="none" stroke-linecap="round" stroke-linejoin="round" style="mix-blend-mode:lighten"/>
<path d="M1057,926 L1054,1000 L1058,1080 L1061,1140" stroke="rgb(217,217,217)" stroke-width="18" fill="none" stroke-linecap="round" stroke-linejoin="round" style="mix-blend-mode:lighten"/>
<ellipse cx="1086" cy="827" rx="8" ry="7" fill="rgb(178,178,178)" style="mix-blend-mode:lighten"/>
<ellipse cx="1020" cy="1045" rx="14" ry="10" fill="rgb(217,217,217)" style="mix-blend-mode:lighten"/>
<ellipse cx="1256" cy="818" rx="6" ry="13" fill="rgb(140,140,140)" style="mix-blend-mode:lighten"/>
<ellipse cx="1294" cy="822" rx="6" ry="7" fill="rgb(140,140,140)" style="mix-blend-mode:lighten"/>
<ellipse cx="1344" cy="826" rx="6" ry="6" fill="rgb(128,128,128)" style="mix-blend-mode:lighten"/>
<ellipse cx="1277" cy="940" rx="6" ry="6" fill="rgb(128,128,128)" style="mix-blend-mode:lighten"/>
<ellipse cx="1391" cy="827" rx="6" ry="8" fill="rgb(128,128,128)" style="mix-blend-mode:lighten"/>
<ellipse cx="859" cy="1107" rx="6" ry="6" fill="rgb(153,153,153)" style="mix-blend-mode:lighten"/>
<ellipse cx="954" cy="1107" rx="6" ry="6" fill="rgb(153,153,153)" style="mix-blend-mode:lighten"/>
<ellipse cx="911" cy="1126" rx="6" ry="6" fill="rgb(153,153,153)" style="mix-blend-mode:lighten"/>
<ellipse cx="944" cy="1126" rx="6" ry="6" fill="rgb(153,153,153)" style="mix-blend-mode:lighten"/>
<path d="M880,1123 L873,1143 L866,1169 L866,1204 L869,1239 L874,1274 L869,1310" stroke="rgb(140,140,140)" stroke-width="44" fill="none" stroke-linecap="round" stroke-linejoin="round" style="mix-blend-mode:lighten"/>
<path d="M880,1123 L873,1143 L866,1169 L866,1204 L869,1239 L874,1274 L869,1310" stroke="rgb(222,222,222)" stroke-width="24" fill="none" stroke-linecap="round" stroke-linejoin="round" style="mix-blend-mode:lighten"/>
<rect x="894" y="1265" width="17" height="37" fill="rgb(178,178,178)" style="mix-blend-mode:lighten"/>
<path d="M1026,1040 L1026,1138" stroke="rgb(237,237,237)" stroke-width="18" fill="none" stroke-linecap="round" stroke-linejoin="round" style="mix-blend-mode:lighten"/>
<path d="M960,1165 L1030,1185 L1105,1205" stroke="rgb(107,107,107)" stroke-width="30" fill="none" stroke-linecap="round" stroke-linejoin="round" style="mix-blend-mode:lighten"/>
<ellipse cx="937" cy="1204" rx="20" ry="25" fill="rgb(5,5,5)"/>
<ellipse cx="1035" cy="1275" rx="60" ry="30" fill="rgb(158,158,158)" style="mix-blend-mode:lighten"/>
<ellipse cx="1030" cy="1272" rx="28" ry="18" fill="rgb(217,217,217)" style="mix-blend-mode:lighten"/>
<ellipse cx="1105" cy="1133" rx="8" ry="5" fill="rgb(153,153,153)" style="mix-blend-mode:lighten"/>
<ellipse cx="1145" cy="1136" rx="7" ry="4" fill="rgb(128,128,128)" style="mix-blend-mode:lighten"/>
<ellipse cx="1305" cy="1280" rx="40" ry="18" fill="rgb(153,153,153)" style="mix-blend-mode:lighten"/>
<ellipse cx="1412" cy="1135" rx="8" ry="5" fill="rgb(92,92,92)" style="mix-blend-mode:lighten"/>
<ellipse cx="1450" cy="1135" rx="8" ry="5" fill="rgb(92,92,92)" style="mix-blend-mode:lighten"/>
<ellipse cx="1420" cy="1282" rx="15" ry="10" fill="rgb(128,128,128)" style="mix-blend-mode:lighten"/>
</g></g>
<path d="M861.6,546.7 L863.5,592" stroke="#333" stroke-width="7.5" fill="none" stroke-dasharray="16,9"/>
<path d="M862.2,722.3 L862.2928240740741,731.0972222222222 L862.337037037037,743.5444444444444 L862.4312500000001,758.15 L862.6740740740742,773.4222222222221 L863.1641203703706,787.8694444444442 L864.0,800.0 L865.4430555555556,809.6724537037037 L867.4666666666667,818.0518518518519 L869.7375000000001,825.60625 L871.9222222222221,832.8037037037036 L873.6875,840.1122685185185 L874.7,848.0 L874.8196759259259,856.5335648148148 L874.2851851851851,865.3518518518517 L873.3312500000002,874.28125 L872.1925925925926,883.1481481481482 L871.1039351851854,891.7789351851851 L870.3,900.0 L869.742824074074,907.6145833333334 L869.2370370370371,914.7222222222222 L868.78125,921.59375 L868.374074074074,928.5000000000001 L868.0141203703702,935.7118055555555 L867.7,943.5 L867.4412037037038,952.5775462962963 L867.2407407407408,962.8703703703704 L867.0875000000001,973.46875 L866.9703703703706,983.4629629629629 L866.8782407407408,991.9432870370371 L866.8,998" stroke="#333" stroke-width="7.5" fill="none" stroke-dasharray="16,9"/>
<path d="M866.2,1064.0 L866.5564814814816,1068.4780092592591 L866.9851851851853,1074.8629629629631 L867.5250000000001,1082.33125 L868.214814814815,1090.0592592592593 L869.0935185185186,1097.2233796296296 L870.2,1103.0 L871.7939814814815,1107.2902777777779 L873.8962962962964,1110.7333333333333 L876.1875000000001,1113.6125000000002 L878.3481481481482,1116.211111111111 L880.0587962962965,1118.8125 L881.0,1121.7 L881.1,1124.8275462962963 L880.6,1127.9592592592594 L879.65,1131.0937500000002 L878.3999999999999,1134.2296296296297 L877.0,1137.3655092592596 L875.6,1140.5 L874.0025462962963,1143.6344907407406 L872.0481481481481,1146.7703703703703 L869.9437499999999,1149.9062500000002 L867.8962962962963,1153.0407407407406 L866.1127314814815,1156.1724537037037 L864.8,1159.3 L863.9872685185185,1162.0185185185185 L863.5148148148148,1164.248148148148 L863.30625,1166.475 L863.285185185185,1169.1851851851852 L863.3752314814814,1172.8648148148147 L863.5,1178.0 L863.6722222222222,1185.2238425925927 L863.9555555555555,1194.274074074074 L864.35,1204.29375 L864.8555555555556,1214.4259259259256 L865.4722222222222,1223.8136574074074 L866.2,1231.6 L867.1789351851852,1237.678935185185 L868.4370370370369,1242.7148148148146 L869.8062500000001,1247.00625 L871.1185185185186,1250.8518518518517 L872.2057870370371,1254.5502314814814 L872.9,1258.4 L873.1655092592594,1262.291203703704 L873.1296296296296,1265.962962962963 L872.8687499999999,1269.4875000000002 L872.4592592592592,1272.9370370370373 L871.9775462962963,1276.3837962962964 L871.5,1279.9 L870.9375,1283.720138888889 L870.2111111111112,1287.8333333333335 L869.4125,1291.9437500000001 L868.6333333333334,1295.7555555555557 L867.9652777777778,1298.9729166666668 L867.5,1301.3" stroke="#333" stroke-width="7.5" fill="none" stroke-dasharray="16,9"/>
<path d="M957,551 L954.5,640" stroke="#333" stroke-width="7.5" fill="none" stroke-dasharray="16,9"/>
<path d="M951,700 L966.7,790" stroke="#333" stroke-width="7.5" fill="none" stroke-dasharray="16,9"/>
<path d="M1000,865.4 L1002,982" stroke="#333" stroke-width="7.5" fill="none" stroke-dasharray="16,9"/>
<path d="M992.2,1044 L992.2,1130" stroke="#333" stroke-width="7.5" fill="none" stroke-dasharray="16,9"/>
<path d="M1059.0,893.0 L1058.3518518518517,904.9537037037036 L1057.3703703703704,921.7407407407408 L1056.25,941.5 L1055.1851851851852,962.3703703703703 L1054.3703703703704,982.4907407407408 L1054.0,1000.0 L1054.1458333333335,1015.1157407407408 L1054.6666666666665,1029.3703703703704 L1055.4375,1042.875 L1056.3333333333335,1055.7407407407406 L1057.2291666666665,1068.0787037037037 L1058.0,1080.0 L1058.712962962963,1091.9722222222222 L1059.4814814814813,1104.0 L1060.25,1115.5 L1060.962962962963,1125.888888888889 L1061.5648148148148,1134.5833333333333 L1062,1141" stroke="#333" stroke-width="7.5" fill="none" stroke-dasharray="16,9"/>
<path d="M1015,1237 L1017.6,1298" stroke="#333" stroke-width="7.5" fill="none" stroke-dasharray="16,9"/>
<path d="M1289,569.5 L1287.7,672" stroke="#333" stroke-width="7.5" fill="none" stroke-dasharray="16,9"/>
<path d="M1282.9,733.0 L1282.5122685185188,754.76875 L1282.0148148148148,786.0999999999999 L1281.4062500000002,822.60625 L1280.6851851851854,859.9 L1279.8502314814816,893.5937500000001 L1278.9,919.3 L1277.6935185185187,936.90625 L1276.203703703704,949.9 L1274.6000000000001,959.2937499999999 L1273.051851851852,966.0999999999999 L1271.728703703704,971.3312499999998 L1270.8,976" stroke="#333" stroke-width="7.5" fill="none" stroke-dasharray="16,9"/>
<path d="M1395,574.8 L1395,672" stroke="#333" stroke-width="7.5" fill="none" stroke-dasharray="16,9"/>
<path d="M1394,733 L1404.8,901" stroke="#333" stroke-width="7.5" fill="none" stroke-dasharray="16,9"/>
<path d="M1536.2,561.4 L1536.2,618" stroke="#333" stroke-width="7.5" fill="none" stroke-dasharray="16,9"/>
<path d="M1538.8,666.0 L1540.7499999999998,696.2849537037036 L1543.6000000000001,740.3962962962963 L1546.8999999999999,791.54375 L1550.2,842.937037037037 L1553.05,887.7858796296297 L1555.0,919.3 L1555.9374999999998,936.0891203703704 L1556.2,943.3074074074073 L1556.0125,943.9812499999999 L1555.6000000000001,941.1370370370371 L1555.1875000000002,937.8011574074073 L1555,937" stroke="#333" stroke-width="7.5" fill="none" stroke-dasharray="16,9"/>
<path d="M1595,722.3 L1596,859" stroke="#333" stroke-width="7.5" fill="none" stroke-dasharray="16,9"/>
<path d="M1595,920.7 L1589.8,1012" stroke="#333" stroke-width="7.5" fill="none" stroke-dasharray="16,9"/>
<path d="M1291,1033.3 L1299,1172" stroke="#333" stroke-width="7.5" fill="none" stroke-dasharray="16,9"/>
<path d="M1303,1234.3 L1301,1299" stroke="#333" stroke-width="7.5" fill="none" stroke-dasharray="16,9"/>
<path d="M1568.3,1103 L1556.3,1170" stroke="#333" stroke-width="7.5" fill="none" stroke-dasharray="16,9"/>
<path d="M1552,1231.6 L1552,1301" stroke="#333" stroke-width="7.5" fill="none" stroke-dasharray="16,9"/>
<ellipse cx="864.3" cy="617.7" rx="27.5" ry="30.5" fill="#e6e6e8" stroke="#333" stroke-width="2"/>
<text x="864.3" y="631.3000000000001" font-size="39" font-weight="bold" fill="#000" text-anchor="middle">E</text>
<ellipse cx="957.8" cy="670.5" rx="27.5" ry="30.5" fill="#e6e6e8" stroke="#333" stroke-width="2"/>
<text x="957.8" y="681.0" font-size="39" font-weight="bold" fill="#000" text-anchor="middle">e</text>
<ellipse cx="1284.2" cy="702.2" rx="27.5" ry="30.5" fill="#e6e6e8" stroke="#333" stroke-width="2"/>
<text x="1284.2" y="715.8000000000001" font-size="39" font-weight="bold" fill="#000" text-anchor="middle">O</text>
<ellipse cx="1394.1" cy="701.6" rx="27.5" ry="30.5" fill="#e6e6e8" stroke="#333" stroke-width="2"/>
<text x="1394.1" y="715.2" font-size="39" font-weight="bold" fill="#000" text-anchor="middle">O</text>
<ellipse cx="1522" cy="643.2" rx="27.5" ry="30.5" fill="#e6e6e8" stroke="#333" stroke-width="2"/>
<text x="1522" y="656.8000000000001" font-size="39" font-weight="bold" fill="#000" text-anchor="middle">P</text>
<ellipse cx="1065.9" cy="860.3" rx="27.5" ry="30.5" fill="#e6e6e8" stroke="#333" stroke-width="2"/>
<text x="1065.9" y="870.8" font-size="39" font-weight="bold" fill="#000" text-anchor="middle">e</text>
<ellipse cx="1597.8" cy="888.4" rx="27.5" ry="30.5" fill="#e6e6e8" stroke="#333" stroke-width="2"/>
<text x="1597.8" y="902.0" font-size="39" font-weight="bold" fill="#000" text-anchor="middle">P</text>
<ellipse cx="867" cy="1029.8" rx="27.5" ry="30.5" fill="#e6e6e8" stroke="#333" stroke-width="2"/>
<text x="867" y="1043.3999999999999" font-size="39" font-weight="bold" fill="#000" text-anchor="middle">E</text>
<ellipse cx="993.5" cy="1012.4" rx="27.5" ry="30.5" fill="#e6e6e8" stroke="#333" stroke-width="2"/>
<text x="993.5" y="1022.9" font-size="39" font-weight="bold" fill="#000" text-anchor="middle">e</text>
<ellipse cx="1302.4" cy="1202.1" rx="27.5" ry="30.5" fill="#e6e6e8" stroke="#333" stroke-width="2"/>
<text x="1302.4" y="1215.6999999999998" font-size="39" font-weight="bold" fill="#000" text-anchor="middle">O</text>
<ellipse cx="1555.7" cy="1200.8" rx="27.5" ry="30.5" fill="#e6e6e8" stroke="#333" stroke-width="2"/>
<text x="1555.7" y="1214.3999999999999" font-size="39" font-weight="bold" fill="#000" text-anchor="middle">P</text>
<clipPath id="clipF"><rect x="833.4" y="2045.6" width="815.0000000000001" height="512.9000000000001"/></clipPath>
<g clip-path="url(#clipF)"><g filter="url(#jet)" style="isolation:isolate">
<g filter="url(#cblur)">
<rect x="803.4" y="2015.6" width="875.0000000000001" height="572.9000000000001" fill="rgb(27,27,27)"/>
<rect x="803.4" y="2015.6" width="37.60000000000002" height="572.9000000000001" fill="rgb(5,5,5)"/>
<rect x="841" y="2015.6" width="15" height="159.4000000000001" fill="rgb(76,76,76)"/>
<rect x="841" y="2175" width="15" height="127" fill="rgb(115,115,115)"/>
<rect x="841" y="2302" width="15" height="286.5" fill="rgb(89,89,89)"/>
<rect x="856" y="2015.6" width="24" height="159.4000000000001" fill="rgb(107,107,107)"/>
<rect x="856" y="2175" width="24" height="155" fill="rgb(140,140,140)"/>
<rect x="856" y="2330" width="24" height="140" fill="rgb(107,107,107)"/>
<rect x="856" y="2470" width="24" height="118.5" fill="rgb(153,153,153)"/>
<rect x="880" y="2015.6" width="15" height="146.4000000000001" fill="rgb(31,31,31)"/>
<rect x="880" y="2162" width="15" height="140" fill="rgb(153,153,153)"/>
<rect x="880" y="2302" width="15" height="98" fill="rgb(82,82,82)"/>
<rect x="880" y="2400" width="15" height="80" fill="rgb(128,128,128)"/>
<rect x="880" y="2480" width="15" height="108.5" fill="rgb(102,102,102)"/>
<rect x="895" y="2015.6" width="16" height="84.40000000000009" fill="rgb(97,97,97)"/>
<rect x="895" y="2100" width="16" height="202" fill="rgb(140,140,140)"/>
<rect x="895" y="2302" width="16" height="286.5" fill="rgb(128,128,128)"/>
<rect x="911" y="2015.6" width="16" height="84.40000000000009" fill="rgb(115,115,115)"/>
<rect x="911" y="2100" width="16" height="202" fill="rgb(140,140,140)"/>
<rect x="911" y="2302" width="16" height="218" fill="rgb(153,153,153)"/>
<rect x="911" y="2520" width="16" height="68.5" fill="rgb(140,140,140)"/>
<rect x="927" y="2015.6" width="21" height="74.40000000000009" fill="rgb(76,76,76)"/>
<rect x="927" y="2090" width="21" height="212" fill="rgb(140,140,140)"/>
<rect x="927" y="2302" width="21" height="78" fill="rgb(115,115,115)"/>
<rect x="927" y="2380" width="21" height="208.5" fill="rgb(140,140,140)"/>
<rect x="948" y="2015.6" width="20" height="159.4000000000001" fill="rgb(27,27,27)"/>
<rect x="948" y="2175" width="20" height="127" fill="rgb(128,128,128)"/>
<rect x="948" y="2302" width="20" height="78" fill="rgb(115,115,115)"/>
<rect x="948" y="2380" width="20" height="140" fill="rgb(128,128,128)"/>
<rect x="948" y="2520" width="20" height="68.5" fill="rgb(102,102,102)"/>
<rect x="968" y="2015.6" width="21" height="68.40000000000009" fill="rgb(128,128,128)"/>
<rect x="968" y="2084" width="21" height="78" fill="rgb(92,92,92)"/>
<rect x="968" y="2162" width="21" height="65" fill="rgb(140,140,140)"/>
<rect x="968" y="2227" width="21" height="75" fill="rgb(92,92,92)"/>
<rect x="968" y="2302" width="21" height="44" fill="rgb(82,82,82)"/>
<rect x="968" y="2346" width="21" height="42" fill="rgb(115,115,115)"/>
<rect x="968" y="2388" width="21" height="200.5" fill="rgb(97,97,97)"/>
<rect x="989" y="2015.6" width="13" height="68.40000000000009" fill="rgb(122,122,122)"/>
<rect x="989" y="2084" width="13" height="65" fill="rgb(89,89,89)"/>
<rect x="989" y="2149" width="13" height="78" fill="rgb(158,158,158)"/>
<rect x="989" y="2227" width="13" height="75" fill="rgb(89,89,89)"/>
<rect x="989" y="2302" width="13" height="44" fill="rgb(76,76,76)"/>
<rect x="989" y="2346" width="13" height="42" fill="rgb(128,128,128)"/>
<rect x="989" y="2388" width="13" height="200.5" fill="rgb(89,89,89)"/>
<rect x="1002" y="2015.6" width="18" height="68.40000000000009" fill="rgb(115,115,115)"/>
<rect x="1002" y="2084" width="18" height="117" fill="rgb(27,27,27)"/>
<rect x="1002" y="2201" width="18" height="101" fill="rgb(102,102,102)"/>
<rect x="1002" y="2302" width="18" height="44" fill="rgb(69,69,69)"/>
<rect x="1002" y="2346" width="18" height="42" fill="rgb(107,107,107)"/>
<rect x="1002" y="2388" width="18" height="32" fill="rgb(102,102,102)"/>
<rect x="1002" y="2420" width="18" height="80" fill="rgb(76,76,76)"/>
<rect x="1002" y="2500" width="18" height="88.5" fill="rgb(102,102,102)"/>
<rect x="1020" y="2015.6" width="21" height="107.40000000000009" fill="rgb(115,115,115)"/>
<rect x="1020" y="2123" width="21" height="73" fill="rgb(38,38,38)"/>
<rect x="1020" y="2196" width="21" height="36" fill="rgb(158,158,158)"/>
<rect x="1020" y="2232" width="21" height="70" fill="rgb(92,92,92)"/>
<rect x="1020" y="2302" width="21" height="44" fill="rgb(76,76,76)"/>
<rect x="1020" y="2346" width="21" height="42" fill="rgb(128,128,128)"/>
<rect x="1020" y="2388" width="21" height="200.5" fill="rgb(97,97,97)"/>
<rect x="1041" y="2015.6" width="21" height="55.40000000000009" fill="rgb(115,115,115)"/>
<rect x="1041" y="2071" width="21" height="143" fill="rgb(27,27,27)"/>
<rect x="1041" y="2214" width="21" height="88" fill="rgb(97,97,97)"/>
<rect x="1041" y="2302" width="21" height="44" fill="rgb(76,76,76)"/>
<rect x="1041" y="2346" width="21" height="42" fill="rgb(115,115,115)"/>
<rect x="1041" y="2388" width="21" height="32" fill="rgb(102,102,102)"/>
<rect x="1041" y="2420" width="21" height="80" fill="rgb(76,76,76)"/>
<rect x="1041" y="2500" width="21" height="88.5" fill="rgb(102,102,102)"/>
<rect x="1062" y="2015.6" width="31" height="107.40000000000009" fill="rgb(133,133,133)"/>
<rect x="1062" y="2123" width="31" height="65" fill="rgb(102,102,102)"/>
<rect x="1062" y="2188" width="31" height="26" fill="rgb(158,158,158)"/>
<rect x="1062" y="2214" width="31" height="88" fill="rgb(76,76,76)"/>
<rect x="1062" y="2302" width="31" height="44" fill="rgb(76,76,76)"/>
<rect x="1062" y="2346" width="31" height="42" fill="rgb(128,128,128)"/>
<rect x="1062" y="2388" width="31" height="112" fill="rgb(89,89,89)"/>
<rect x="1062" y="2500" width="31" height="88.5" fill="rgb(102,102,102)"/>
<rect x="1093" y="2015.6" width="16" height="133.4000000000001" fill="rgb(115,115,115)"/>
<rect x="1093" y="2149" width="16" height="153" fill="rgb(27,27,27)"/>
<rect x="1093" y="2302" width="16" height="78" fill="rgb(89,89,89)"/>
<rect x="1093" y="2380" width="16" height="40" fill="rgb(140,140,140)"/>
<rect x="1093" y="2420" width="16" height="168.5" fill="rgb(107,107,107)"/>
<rect x="1109" y="2015.6" width="36" height="146.4000000000001" fill="rgb(133,133,133)"/>
<rect x="1109" y="2162" width="36" height="65" fill="rgb(115,115,115)"/>
<rect x="1109" y="2227" width="36" height="75" fill="rgb(38,38,38)"/>
<rect x="1109" y="2302" width="36" height="78" fill="rgb(89,89,89)"/>
<rect x="1109" y="2380" width="36" height="40" fill="rgb(140,140,140)"/>
<rect x="1109" y="2420" width="36" height="168.5" fill="rgb(107,107,107)"/>
<rect x="1145" y="2015.6" width="16" height="133.4000000000001" fill="rgb(115,115,115)"/>
<rect x="1145" y="2149" width="16" height="153" fill="rgb(27,27,27)"/>
<rect x="1145" y="2302" width="16" height="286.5" fill="rgb(82,82,82)"/>
<rect x="1161" y="2015.6" width="36" height="146.4000000000001" fill="rgb(133,133,133)"/>
<rect x="1161" y="2162" width="36" height="34" fill="rgb(97,97,97)"/>
<rect x="1161" y="2196" width="36" height="31" fill="rgb(148,148,148)"/>
<rect x="1161" y="2227" width="36" height="75" fill="rgb(76,76,76)"/>
<rect x="1161" y="2302" width="36" height="286.5" fill="rgb(87,87,87)"/>
<rect x="1197" y="2015.6" width="44" height="134.4000000000001" fill="rgb(102,102,102)"/>
<rect x="1197" y="2150" width="44" height="152" fill="rgb(69,69,69)"/>
<rect x="1197" y="2302" width="44" height="286.5" fill="rgb(97,97,97)"/>
<rect x="1241" y="2015.6" width="16" height="312.4000000000001" fill="rgb(97,97,97)"/>
<rect x="1241" y="2328" width="16" height="83" fill="rgb(153,153,153)"/>
<rect x="1241" y="2411" width="16" height="177.5" fill="rgb(107,107,107)"/>
<rect x="1257" y="2015.6" width="18" height="286.4000000000001" fill="rgb(57,57,57)"/>
<rect x="1257" y="2302" width="18" height="286.5" fill="rgb(82,82,82)"/>
<rect x="1275" y="2015.6" width="25" height="572.9000000000001" fill="rgb(57,57,57)"/>
<rect x="1300" y="2015.6" width="25" height="286.4000000000001" fill="rgb(76,76,76)"/>
<rect x="1300" y="2302" width="25" height="286.5" fill="rgb(46,46,46)"/>
<rect x="1325" y="2015.6" width="15" height="572.9000000000001" fill="rgb(50,50,50)"/>
<rect x="1340" y="2015.6" width="21" height="286.4000000000001" fill="rgb(38,38,38)"/>
<rect x="1340" y="2302" width="21" height="286.5" fill="rgb(69,69,69)"/>
<rect x="1361" y="2015.6" width="14" height="572.9000000000001" fill="rgb(50,50,50)"/>
<rect x="1375" y="2015.6" width="48" height="286.4000000000001" fill="rgb(76,76,76)"/>
<rect x="1375" y="2302" width="48" height="286.5" fill="rgb(76,76,76)"/>
<rect x="1423" y="2015.6" width="78" height="286.4000000000001" fill="rgb(38,38,38)"/>
<rect x="1423" y="2302" width="78" height="286.5" fill="rgb(54,54,54)"/>
<rect x="1501" y="2015.6" width="34" height="286.4000000000001" fill="rgb(42,42,42)"/>
<rect x="1501" y="2302" width="34" height="286.5" fill="rgb(69,69,69)"/>
<rect x="1535" y="2015.6" width="25" height="572.9000000000001" fill="rgb(38,38,38)"/>
<rect x="1560" y="2015.6" width="25" height="572.9000000000001" fill="rgb(46,46,46)"/>
<rect x="1585" y="2015.6" width="94" height="572.9000000000001" fill="rgb(34,34,34)"/>
</g>
<path d="M861,2040 L859,2123 L858,2162 L862,2193 L868,2214 L868,2300 L867,2330" stroke="rgb(153,153,153)" stroke-width="32" fill="none" stroke-linecap="round" stroke-linejoin="round" style="mix-blend-mode:lighten"/>
<path d="M861,2040 L859,2123 L858,2162 L862,2193 L868,2214 L868,2300 L867,2330" stroke="rgb(222,222,222)" stroke-width="18" fill="none" stroke-linecap="round" stroke-linejoin="round" style="mix-blend-mode:lighten"/>
<ellipse cx="885" cy="2245" rx="22" ry="55" fill="rgb(204,204,204)" style="mix-blend-mode:lighten"/>
<path d="M902,2105 L911,2292 L915,2302 L921,2510" stroke="rgb(153,153,153)" stroke-width="38" fill="none" stroke-linecap="round" stroke-linejoin="round" style="mix-blend-mode:lighten"/>
<path d="M902,2105 L911,2292 L915,2302 L921,2510" stroke="rgb(222,222,222)" stroke-width="22" fill="none" stroke-linecap="round" stroke-linejoin="round" style="mix-blend-mode:lighten"/>
<ellipse cx="935" cy="2495" rx="14" ry="22" fill="rgb(237,237,237)" style="mix-blend-mode:lighten"/>
<path d="M931,2091 L943,2293" stroke="rgb(153,153,153)" stroke-width="32" fill="none" stroke-linecap="round" stroke-linejoin="round" style="mix-blend-mode:lighten"/>
<path d="M931,2100 L943,2293" stroke="rgb(217,217,217)" stroke-width="18" fill="none" stroke-linecap="round" stroke-linejoin="round" style="mix-blend-mode:lighten"/>
<ellipse cx="963" cy="2400" rx="15" ry="22" fill="rgb(217,217,217)" style="mix-blend-mode:lighten"/>
<ellipse cx="994" cy="2188" rx="6" ry="39" fill="rgb(178,178,178)" style="mix-blend-mode:lighten"/>
<ellipse cx="1034" cy="2216" rx="7" ry="11" fill="rgb(184,184,184)" style="mix-blend-mode:lighten"/>
<ellipse cx="1083" cy="2201" rx="10" ry="10" fill="rgb(184,184,184)" style="mix-blend-mode:lighten"/>
<ellipse cx="1080" cy="2128" rx="26" ry="5" fill="rgb(153,153,153)" style="mix-blend-mode:lighten"/>
<ellipse cx="1165" cy="2132" rx="32" ry="4" fill="rgb(153,153,153)" style="mix-blend-mode:lighten"/>
<ellipse cx="1187" cy="2128" rx="5" ry="5" fill="rgb(191,191,191)" style="mix-blend-mode:lighten"/>
<ellipse cx="1124" cy="2400" rx="20" ry="12" fill="rgb(204,204,204)" style="mix-blend-mode:lighten"/>
<ellipse cx="990" cy="2365" rx="5" ry="20" fill="rgb(140,140,140)" style="mix-blend-mode:lighten"/>
<ellipse cx="1020" cy="2365" rx="5" ry="20" fill="rgb(140,140,140)" style="mix-blend-mode:lighten"/>
<ellipse cx="1050" cy="2370" rx="5" ry="20" fill="rgb(140,140,140)" style="mix-blend-mode:lighten"/>
<ellipse cx="1075" cy="2398" rx="7" ry="9" fill="rgb(178,178,178)" style="mix-blend-mode:lighten"/>
<ellipse cx="1184.6" cy="2398" rx="7" ry="9" fill="rgb(153,153,153)" style="mix-blend-mode:lighten"/>
<ellipse cx="1249" cy="2370" rx="8" ry="40" fill="rgb(191,191,191)" style="mix-blend-mode:lighten"/>
<ellipse cx="1264" cy="2495" rx="8" ry="15" fill="rgb(153,153,153)" style="mix-blend-mode:lighten"/>
<ellipse cx="1245" cy="2222" rx="6" ry="10" fill="rgb(191,191,191)" style="mix-blend-mode:lighten"/>
<path d="M873,2469 L870,2565" stroke="rgb(217,217,217)" stroke-width="24" fill="none" stroke-linecap="round" stroke-linejoin="round" style="mix-blend-mode:lighten"/>
<rect x="1241" y="2123" width="219" height="13" fill="rgb(76,76,76)" style="mix-blend-mode:lighten"/>
<ellipse cx="1397" cy="2130" rx="10" ry="8" fill="rgb(115,115,115)" style="mix-blend-mode:lighten"/>
<rect x="1241" y="2338" width="408" height="5" fill="rgb(54,54,54)" style="mix-blend-mode:lighten"/>
<rect x="1241" y="2390" width="408" height="5" fill="rgb(54,54,54)" style="mix-blend-mode:lighten"/>
<rect x="1241" y="2233" width="408" height="4" fill="rgb(50,50,50)" style="mix-blend-mode:lighten"/>
</g></g>
<path d="M861.6,2045.0 L861.3020833333333,2053.9375 L860.8777777777779,2066.666666666667 L860.38125,2081.5625 L859.8666666666667,2097.0 L859.3881944444444,2111.354166666667 L859.0,2123.0 L858.6479166666666,2131.849537037037 L858.2777777777777,2139.185185185185 L857.9437499999999,2145.4375 L857.7,2151.037037037037 L857.6006944444443,2156.4143518518517 L857.7,2162.0 L858.0201388888889,2167.7453703703704 L858.5222222222224,2173.296296296296 L859.16875,2178.625 L859.9222222222223,2183.703703703704 L860.745138888889,2188.504629629629 L861.6,2193.0 L862.5960648148148,2196.326388888889 L863.7851851851852,2198.333333333333 L865.0437499999999,2200.0625 L866.2481481481481,2202.555555555556 L867.2747685185186,2206.8541666666665 L868.0,2214.0 L868.3819444444445,2225.2662037037035 L868.5111111111111,2240.0740740740744 L868.4625,2256.6875 L868.3111111111111,2273.37037037037 L868.1319444444443,2288.3865740740744 L868.0,2300.0 L867.8796296296297,2308.1064814814818 L867.7037037037038,2314.074074074074 L867.5,2318.375 L867.2962962962963,2321.4814814814818 L867.1203703703704,2323.865740740741 L867,2326" stroke="#333" stroke-width="7.5" fill="none" stroke-dasharray="16,9"/>
<path d="M866.9,2388.0 L867.6523148148148,2396.240740740741 L868.7296296296296,2408.1481481481483 L869.9875000000001,2422.0 L871.2814814814815,2436.0740740740744 L872.4671296296297,2448.6481481481483 L873.4,2458.0 L874.2280092592592,2463.1319444444443 L875.0962962962963,2465.2222222222226 L875.8562499999999,2465.8125 L876.3592592592593,2466.4444444444443 L876.4567129629629,2468.6597222222226 L876.0,2474.0 L874.7060185185186,2483.7129629629626 L872.6370370370371,2496.814814814815 L870.1625,2511.5 L867.6518518518518,2525.962962962963 L865.4745370370371,2538.3981481481483 L864,2547" stroke="#333" stroke-width="7.5" fill="none" stroke-dasharray="16,9"/>
<path d="M900.4,2107.0 L901.6296296296296,2129.1527777777774 L903.3925925925926,2161.444444444445 L905.4499999999999,2198.875 L907.5629629629628,2236.4444444444443 L909.4925925925925,2269.1527777777783 L911.0,2292.0 L912.019675925926,2301.136574074074 L912.7296296296297,2299.792592592593 L913.25625,2293.5875 L913.7259259259259,2288.1407407407405 L914.2650462962964,2289.071759259259 L915.0,2302.0 L916.0138888888888,2331.4194444444447 L917.2222222222223,2373.733333333333 L918.5,2422.425 L919.7222222222222,2470.9777777777776 L920.7638888888889,2512.875 L921.5,2541.6" stroke="#333" stroke-width="7.5" fill="none" stroke-dasharray="16,9"/>
<path d="M931,2091 L942.7,2293" stroke="#333" stroke-width="7.5" fill="none" stroke-dasharray="16,9"/>
<path d="M952.5,2332 L959,2420" stroke="#333" stroke-width="7.5" fill="none" stroke-dasharray="16,9"/>
<path d="M960.6,2492 L958,2547" stroke="#333" stroke-width="7.5" fill="none" stroke-dasharray="16,9"/>
<path d="M1093.4,2150 L1088,2282" stroke="#333" stroke-width="7.5" fill="none" stroke-dasharray="16,9"/>
<path d="M1212,2103.6 L1206.7,2146" stroke="#333" stroke-width="7.5" fill="none" stroke-dasharray="16,9"/>
<path d="M1198.9,2211.7 L1202.8,2256" stroke="#333" stroke-width="7.5" fill="none" stroke-dasharray="16,9"/>
<path d="M1116.9,2317.6 L1127,2424.4" stroke="#333" stroke-width="7.5" fill="none" stroke-dasharray="16,9"/>
<path d="M1124.7,2488 L1120.8,2554.6" stroke="#333" stroke-width="7.5" fill="none" stroke-dasharray="16,9"/>
<path d="M1236.6,2282.0 L1236.473611111111,2282.99537037037 L1236.311111111111,2283.407407407408 L1236.1124999999997,2284.375 L1235.8777777777775,2287.037037037037 L1235.606944444444,2292.5324074074074 L1235.3,2302.0 L1234.9118055555555,2317.8425925925926 L1234.4333333333336,2339.6296296296296 L1233.9187499999998,2364.25 L1233.4222222222222,2388.5925925925926 L1232.9979166666662,2409.546296296296 L1232.7,2424" stroke="#333" stroke-width="7.5" fill="none" stroke-dasharray="16,9"/>
<path d="M1230,2488 L1227.6,2544" stroke="#333" stroke-width="7.5" fill="none" stroke-dasharray="16,9"/>
<path d="M1390.7,2064.5 L1392,2148" stroke="#333" stroke-width="7.5" fill="none" stroke-dasharray="16,9"/>
<path d="M1394.6,2211 L1397.3,2291" stroke="#333" stroke-width="7.5" fill="none" stroke-dasharray="16,9"/>
<path d="M1525.4,2055.4 L1525.4,2076" stroke="#333" stroke-width="7.5" fill="none" stroke-dasharray="16,9"/>
<path d="M1526.9,2136 L1530,2244" stroke="#333" stroke-width="7.5" fill="none" stroke-dasharray="16,9"/>
<path d="M1411.6,2339.8 L1406.4,2418" stroke="#333" stroke-width="7.5" fill="none" stroke-dasharray="16,9"/>
<path d="M1403,2479 L1400.4,2553" stroke="#333" stroke-width="7.5" fill="none" stroke-dasharray="16,9"/>
<path d="M1515,2355.4 L1515.7,2419" stroke="#333" stroke-width="7.5" fill="none" stroke-dasharray="16,9"/>
<path d="M1518.3,2481.7 L1519.6,2544" stroke="#333" stroke-width="7.5" fill="none" stroke-dasharray="16,9"/>
<ellipse cx="866.9" cy="2355.4" rx="27.5" ry="30.5" fill="#e6e6e8" stroke="#333" stroke-width="2"/>
<text x="866.9" y="2369.0" font-size="39" font-weight="bold" fill="#000" text-anchor="middle">E</text>
<ellipse cx="922.8" cy="2235" rx="27.5" ry="30.5" fill="#e6e6e8" stroke="#333" stroke-width="2"/>
<text x="922.8" y="2245.5" font-size="39" font-weight="bold" fill="#000" text-anchor="middle">e</text>
<ellipse cx="962.2" cy="2457.7" rx="27.5" ry="30.5" fill="#e6e6e8" stroke="#333" stroke-width="2"/>
<text x="962.2" y="2468.2" font-size="39" font-weight="bold" fill="#000" text-anchor="middle">e</text>
<ellipse cx="1094.4" cy="2115.9" rx="27.5" ry="30.5" fill="#e6e6e8" stroke="#333" stroke-width="2"/>
<text x="1094.4" y="2129.5" font-size="39" font-weight="bold" fill="#000" text-anchor="middle">O</text>
<ellipse cx="1205" cy="2179" rx="27.5" ry="30.5" fill="#e6e6e8" stroke="#333" stroke-width="2"/>
<text x="1205" y="2192.6" font-size="39" font-weight="bold" fill="#000" text-anchor="middle">O</text>
<ellipse cx="1123.4" cy="2456" rx="27.5" ry="30.5" fill="#e6e6e8" stroke="#333" stroke-width="2"/>
<text x="1123.4" y="2469.6" font-size="39" font-weight="bold" fill="#000" text-anchor="middle">O</text>
<ellipse cx="1231.4" cy="2455.6" rx="27.5" ry="30.5" fill="#e6e6e8" stroke="#333" stroke-width="2"/>
<text x="1231.4" y="2469.2" font-size="39" font-weight="bold" fill="#000" text-anchor="middle">O</text>
<ellipse cx="1393.2" cy="2179" rx="27.5" ry="30.5" fill="#e6e6e8" stroke="#333" stroke-width="2"/>
<text x="1393.2" y="2192.6" font-size="39" font-weight="bold" fill="#000" text-anchor="middle">P</text>
<ellipse cx="1522" cy="2106" rx="27.5" ry="30.5" fill="#e6e6e8" stroke="#333" stroke-width="2"/>
<text x="1522" y="2119.6" font-size="39" font-weight="bold" fill="#000" text-anchor="middle">P</text>
<ellipse cx="1402" cy="2447.8" rx="27.5" ry="30.5" fill="#e6e6e8" stroke="#333" stroke-width="2"/>
<text x="1402" y="2461.4" font-size="39" font-weight="bold" fill="#000" text-anchor="middle">P</text>
<ellipse cx="1517.6" cy="2449" rx="27.5" ry="30.5" fill="#e6e6e8" stroke="#333" stroke-width="2"/>
<text x="1517.6" y="2462.6" font-size="39" font-weight="bold" fill="#000" text-anchor="middle">P</text>
<text x="833.4" y="1336.0" font-size="33" fill="#333" text-anchor="middle" textLength="17" lengthAdjust="spacingAndGlyphs" >0</text>
<text x="1037.2" y="1336.0" font-size="33" fill="#333" text-anchor="middle" textLength="17" lengthAdjust="spacingAndGlyphs" >2</text>
<text x="1240.9" y="1336.0" font-size="33" fill="#333" text-anchor="middle" textLength="17" lengthAdjust="spacingAndGlyphs" >4</text>
<text x="1444.7" y="1336.0" font-size="33" fill="#333" text-anchor="middle" textLength="17" lengthAdjust="spacingAndGlyphs" >6</text>
<text x="1648.4" y="1336.0" font-size="33" fill="#333" text-anchor="middle" textLength="17" lengthAdjust="spacingAndGlyphs" >8</text>
<text x="1112.0" y="1385.5" font-size="38.5" fill="#333" textLength="358" lengthAdjust="spacingAndGlyphs" >Frequency (cycles/m)</text>
<text x="833.4" y="2600.5" font-size="33" fill="#333" text-anchor="middle" textLength="17" lengthAdjust="spacingAndGlyphs" >0</text>
<text x="1037.2" y="2600.5" font-size="33" fill="#333" text-anchor="middle" textLength="17" lengthAdjust="spacingAndGlyphs" >2</text>
<text x="1240.9" y="2600.5" font-size="33" fill="#333" text-anchor="middle" textLength="17" lengthAdjust="spacingAndGlyphs" >4</text>
<text x="1444.7" y="2600.5" font-size="33" fill="#333" text-anchor="middle" textLength="17" lengthAdjust="spacingAndGlyphs" >6</text>
<text x="1648.4" y="2600.5" font-size="33" fill="#333" text-anchor="middle" textLength="17" lengthAdjust="spacingAndGlyphs" >8</text>
<text x="1112.0" y="2650.7" font-size="38.5" fill="#333" textLength="358" lengthAdjust="spacingAndGlyphs" >Frequency (cycles/m)</text>
<clipPath id="cpd545"><rect x="303" y="545" width="409" height="757"/></clipPath>
<g clip-path="url(#cpd545)">
<path d="M307.9,548 L432.1,557.2 L413.6,562.5 L315.9,573.1 L405.7,583.6 L379.3,591.6 L392.5,596.8 L379.3,603.4 L389.8,607.4 L347.6,615.3 L310.6,621.9 L387.2,635.1 L334.3,644.4 L405.7,651 L400.4,660.2 L323.8,676.1 L321.1,681.4 L389.8,694.6 L329.1,699.9 L379.3,705.2 L363.4,715.7 L368.7,721 L317.2,726.3 L321.1,739.5 L358.1,747.4 L376.6,758 L374,763.3 L318.5,776.5 L363.4,791 L323.8,797.6 L342.3,803.2 L326.4,816.4 L317.2,827 L334.3,836.2 L413.6,845.5 L326.4,851.3 L558.9,861.3 L448,866.6 L325.1,876.7 L484.9,881.1 L640.8,890.4 L590.6,898.3 L371.3,908.9 L564.2,914.2 L704.2,923.4 L564.2,938 L333,953.8 L371.3,957.8 L334.3,961.7 L584,973.6 L318.5,992.1 L627.6,1009.3 L319.8,1022.5 L413.6,1038.3 L405.7,1040 L352.8,1051.9 L387.2,1058.5 L396.4,1063.8 L348.9,1069.1 L389.8,1079.6 L395.1,1088.9 L350.2,1103.4 L384.5,1112.7 L363.4,1127.2 L364.7,1139.1 L331.7,1147 L318.5,1160.2 L362.1,1168.1 L302.6,1189.3 L331.7,1198.5 L342.3,1211.7 L314.5,1214.4 L346.2,1222.3 L318.5,1227.6 L352.8,1238.2 L355.5,1259.3 L348.9,1269.9 L359.4,1284.4 L355.5,1296.3" stroke="#9a9a9a" stroke-width="2.4" fill="none" stroke-linecap="round" stroke-dasharray="0.1,7.5"/>
<path d="M479.7,554 L586.6,555.1 L569.5,556.7 L566.8,560.4 L570.8,562 L556.3,565.1 L458.5,569.1 L354.2,571.7 L458.5,575.7 L537.8,578.3 L564.2,581.8 L553.6,585 L523.2,588.9 L551,591.6 L529.9,594.2 L555,598.7 L527.2,600.8 L551,604.2 L482.3,609.5 L540.4,611.4 L458.5,613.2 L405.7,614.8 L340.9,619.3 L371.3,622.7 L511.4,628 L541.7,632.5 L524.6,635.1 L437.4,641.8 L448,644.4 L561.6,649.2 L560.2,658.1 L453.2,666.1 L451.9,669.5 L432.1,672.1 L399.1,676.6 L426.8,681.4 L458.5,685.3 L551,692 L537.8,694.6 L420.2,697.2 L492.9,699.9 L536.5,703.8 L523.2,707.8 L524.6,710.4 L506.1,713.1 L528.5,718.4 L506.1,721 L385.9,723.7 L376.6,726.8 L429.5,732.1 L385.9,736.9 L448,740 L511.4,746.1 L502.1,750.1 L528.5,754.8 L519.3,758 L539.1,762.8 L532.5,765.4 L385.9,771.7 L389.8,775.2 L500.8,779.1 L416.2,783.9 L512.7,789.2 L500.8,791 L409.6,794.8 L475.7,798.5 L471.7,801.9 L454.6,805.9 L494.2,809.8 L422.9,814.3 L471.7,817 L366.1,824.9 L437.4,829.6 L446.6,831 L438.7,833.6 L511.4,838.9 L576.1,843.4 L428.1,848.7 L564.2,852.1 L643.5,854.7 L650.1,860 L593.3,864 L663.3,867.9 L564.2,870.6 L422.9,875.1 L458.5,878.5 L564.2,881.1 L675.2,887.8 L672.5,891.7 L656.7,897 L580.1,901 L574.8,904.1 L519.3,906.8 L564.2,908.9 L685.7,912.9 L692.3,916.8 L680.4,920.8 L693.6,926.1 L662,934 L639.5,937.4 L635.5,940.1 L564.2,942.7 L448,951.2 L474.4,953.8 L519.3,955.7 L457.2,959.1 L564.2,965.7 L658,972.3 L643.5,976.3 L564.2,980.2 L392.5,990.3 L564.2,996.1 L643.5,1000.8 L672.5,1008 L643.5,1013.2 L399.1,1021.2 L511.4,1029.1 L570.8,1035.7 L557.6,1039.7 L560.2,1040 L487.6,1051.1 L539.1,1054.5 L541.7,1058.5 L555,1063.2 L482.3,1069.6 L532.5,1072.2 L547,1077 L540.4,1083.6 L551,1087 L524.6,1094.2 L524.6,1096.8 L484.9,1103.4 L541.7,1111.3 L524.6,1115.3 L506.1,1119.3 L511.4,1124.5 L514,1129.8 L511.4,1139.1 L500.8,1140.9 L436.1,1146.2 L450.6,1150.4 L413.6,1154.9 L400.4,1159.4 L511.4,1168.7 L463.8,1174.2 L458.5,1177.9 L405.7,1181.3 L302.6,1189.3 L405.7,1192.7 L448,1198.5 L417.6,1204.3 L473,1209.1 L372.7,1213.6 L479.7,1221 L389.8,1227.1 L482.3,1232.3 L496.8,1237.6 L484.9,1243.4 L495.5,1251.4 L500.8,1260.6 L490.2,1265.9 L506.1,1283.1 L484.9,1288.4 L506.1,1295 L479.7,1302.9" stroke="#000" stroke-width="1.8" fill="none" stroke-linejoin="round"/>
<path d="M473.0,544.0 L472.5,546.0 L471.9,548.7 L471.2,552.0 L470.4,555.6 L469.5,559.3 L468.5,563.2 L467.5,566.9 L466.4,570.4 L465.2,573.8 L463.9,577.2 L462.4,580.6 L460.9,584.1 L459.4,587.5 L458.1,590.8 L456.9,593.9 L455.9,596.8 L455.1,599.5 L454.5,601.9 L454.0,604.1 L453.6,606.2 L453.3,608.3 L453.1,610.5 L453.1,612.8 L453.2,615.3 L453.4,618.0 L453.6,620.9 L453.9,623.8 L454.4,626.9 L455.0,629.9 L455.9,633.0 L457.0,636.1 L458.5,639.1 L460.4,642.0 L462.8,644.9 L465.5,647.8 L468.4,650.7 L471.4,653.6 L474.4,656.6 L477.2,659.7 L479.7,662.9 L482.1,666.3 L484.5,670.0 L486.9,673.8 L489.3,677.6 L491.4,681.4 L493.2,685.2 L494.6,688.7 L495.5,692.0 L496.0,695.0 L496.3,697.8 L496.2,700.5 L495.8,703.0 L495.0,705.5 L493.9,708.0 L492.3,710.5 L490.2,713.1 L487.6,715.7 L484.6,718.4 L481.2,721.0 L477.3,723.6 L473.1,726.3 L468.5,728.9 L463.7,731.6 L458.5,734.2 L452.8,736.9 L446.5,739.6 L439.7,742.3 L432.6,745.0 L425.5,747.6 L418.5,750.3 L411.8,752.9 L405.7,755.4 L400.0,757.8 L394.4,760.1 L389.0,762.2 L383.8,764.4 L378.9,766.6 L374.2,768.9 L369.9,771.3 L366.0,773.9 L362.3,776.8 L358.7,779.8 L355.3,783.0 L352.2,786.3 L349.7,789.7 L347.7,792.9 L346.5,796.1 L346.2,799.0 L346.7,801.7 L347.9,804.4 L349.7,806.9 L352.2,809.3 L355.4,811.7 L359.2,814.1 L363.6,816.6 L368.7,819.1 L374.6,821.7 L381.3,824.3 L388.8,826.9 L396.9,829.6 L405.4,832.2 L414.2,834.9 L423.1,837.6 L432.1,840.2 L441.3,842.9 L451.1,845.5 L461.3,848.2 L471.6,850.9 L481.9,853.6 L492.1,856.2 L502.0,858.8 L511.4,861.3 L520.6,863.7 L529.8,866.1 L539.0,868.4 L547.9,870.6 L556.3,872.9 L564.2,875.1 L571.3,877.4 L577.4,879.8 L582.6,882.3 L587.1,884.8 L590.9,887.5 L594.1,890.1 L596.6,892.7 L598.7,895.2 L600.2,897.5 L601.2,899.6 L601.8,901.4 L602.0,902.9 L601.6,904.2 L600.7,905.5 L599.2,906.7 L597.0,908.1 L594.2,909.6 L590.6,911.5 L586.2,913.7 L581.0,916.1 L575.1,918.7 L568.5,921.4 L561.4,924.3 L553.9,927.1 L546.0,929.9 L537.8,932.7 L529.1,935.5 L519.5,938.3 L509.4,941.1 L499.0,944.0 L488.4,946.8 L478.0,949.7 L468.0,952.4 L458.5,955.1 L449.3,957.7 L440.1,960.1 L430.9,962.5 L422.0,964.9 L413.6,967.3 L405.7,969.7 L398.6,972.3 L392.5,974.9 L387.2,977.7 L382.6,980.6 L378.6,983.6 L375.3,986.7 L372.7,989.8 L370.7,992.8 L369.4,995.8 L368.7,998.7 L368.6,1001.4 L369.1,1004.1 L370.2,1006.6 L372.0,1009.2 L374.5,1011.7 L377.9,1014.3 L382.1,1017.0 L387.2,1019.9 L393.7,1023.0 L401.7,1026.2 L410.9,1029.6 L420.7,1033.0 L430.8,1036.4 L440.7,1039.8 L450.1,1043.0 L458.5,1046.0 L466.1,1048.8 L473.5,1051.4 L480.6,1053.8 L487.4,1056.2 L493.9,1058.6 L500.1,1061.0 L505.9,1063.6 L511.4,1066.4 L516.7,1069.5 L522.0,1072.8 L527.0,1076.2 L531.7,1079.7 L535.8,1083.2 L539.2,1086.6 L541.7,1089.8 L543.1,1092.8 L543.6,1095.4 L543.4,1097.6 L542.5,1099.6 L540.8,1101.5 L538.2,1103.5 L534.7,1105.7 L530.2,1108.3 L524.6,1111.3 L517.5,1114.9 L508.7,1119.0 L498.7,1123.4 L487.9,1128.0 L476.7,1132.7 L465.6,1137.3 L455.0,1141.7 L445.3,1145.7 L436.1,1149.4 L426.7,1153.0 L417.4,1156.4 L408.4,1159.7 L399.9,1162.9 L392.1,1166.1 L385.1,1169.1 L379.3,1172.1 L374.6,1175.0 L370.8,1177.7 L367.8,1180.4 L365.5,1183.0 L363.9,1185.5 L362.8,1188.0 L362.3,1190.6 L362.1,1193.2 L362.4,1195.8 L363.1,1198.4 L364.5,1200.9 L366.3,1203.5 L368.7,1206.1 L371.7,1208.7 L375.2,1211.5 L379.3,1214.4 L384.2,1217.5 L389.9,1220.6 L396.3,1223.9 L403.1,1227.3 L410.3,1230.7 L417.7,1234.1 L425.0,1237.5 L432.1,1240.8 L439.3,1244.0 L446.9,1247.2 L454.7,1250.3 L462.5,1253.5 L470.1,1256.7 L477.4,1260.0 L484.2,1263.5 L490.2,1267.2 L495.6,1271.4 L500.7,1276.0 L505.4,1281.0 L509.7,1286.1 L513.5,1290.9 L516.8,1295.2 L519.6,1298.9 L521.9,1301.6" stroke="#ff0000" stroke-width="3.6" fill="none" stroke-linejoin="round" />
</g>
<clipPath id="cpd2048"><rect x="303" y="2048" width="409" height="510"/></clipPath>
<g clip-path="url(#cpd2048)">
<path d="M321.1,2053.9 L326.4,2061.9 L321.1,2069.8 L405.7,2079 L326.4,2087 L405.7,2100.2 L319.8,2109.4 L469.1,2118.7 L342.3,2130.5 L344.9,2139.8 L442.7,2149 L381.9,2158.3 L450.6,2171.5 L404.4,2177.6 L418.9,2190 L479.7,2199.2 L434.7,2207.7 L502.1,2213.8 L463.8,2223 L498.2,2225.7 L418.9,2233.6 L453.2,2240.2 L321.1,2257.4 L319.8,2264 L564.2,2287.7 L399.1,2297 L527.2,2302.6 L413.6,2314.5 L437.4,2319.8 L376.6,2329.1 L503.4,2339.6 L352.8,2346.2 L551,2358.1 L408.3,2372.7 L479.7,2384.5 L363.4,2391.1 L400.4,2401.7 L358.1,2408.3 L371.3,2421.5 L412.3,2429.5 L374,2438.7 L617,2448 L342.3,2456.4 L551,2461.7 L317.2,2479.7 L474.4,2488.9 L358.1,2511.4 L326.4,2527.2 L325.1,2539.1 L343.6,2553.6" stroke="#9a9a9a" stroke-width="2.4" fill="none" stroke-linecap="round" stroke-dasharray="0.1,7.5"/>
<path d="M455.9,2046 L371.3,2051.8 L352.8,2056 L391.1,2061.3 L355.5,2065 L348.9,2069.2 L384.5,2074.5 L389.8,2084.3 L362.1,2087 L405.7,2090.4 L506.1,2093.6 L528.5,2094.9 L536.5,2098.8 L347.6,2109.9 L421.5,2112 L564.2,2116.8 L576.1,2120 L560.2,2124.7 L425.5,2131.1 L463.8,2135.8 L421.5,2141.6 L537.8,2147.7 L557.6,2149.8 L495.5,2156.4 L532.5,2160.9 L536.5,2164.4 L564.2,2171.5 L527.2,2176 L547,2183.4 L540.4,2188.7 L584,2200.6 L551,2208.5 L595.9,2214.6 L569.5,2223.5 L597.2,2226.2 L537.8,2233.1 L566.8,2238.9 L490.2,2246.8 L348.9,2257.4 L348.9,2267.4 L511.4,2272.7 L569.5,2281.7 L623.6,2287.7 L519.3,2296.5 L603.8,2303 L610.4,2304.8 L532.5,2311.9 L532.5,2315.9 L556.3,2319 L553.6,2321.1 L491.5,2327.7 L511.4,2333 L595.9,2339.6 L543.1,2342.8 L453.2,2345.4 L564.2,2348.9 L605.1,2351.5 L619.7,2358.1 L590.6,2363.4 L527.2,2371.9 L553.6,2379.3 L581.4,2384.5 L558.9,2387.2 L471.7,2391.1 L500.8,2395.1 L506.1,2398.3 L500.8,2400.4 L519.3,2401.7 L458.5,2407 L457.2,2411 L487.6,2414.9 L474.4,2418.9 L484.9,2425.5 L532.5,2430.3 L483.6,2436.9 L564.2,2441.3 L622.3,2444.8 L646.1,2448.7 L564.2,2453.2 L420.2,2456.4 L498.2,2458.5 L619.7,2461.7 L564.2,2465.1 L440,2469.1 L438.7,2473 L313.2,2476.5 L352.8,2481.8 L511.4,2484.9 L580.1,2490.2 L540.4,2495.5 L532.5,2501.3 L511.4,2504.8 L524.6,2508.7 L457.2,2511.9 L510,2515.3 L458.5,2518.5 L397.8,2521.9 L429.5,2523.3 L364.7,2527.2 L440,2530.7 L379.3,2533.8 L360.8,2536.5 L379.3,2541.7 L413.6,2545.7 L397.8,2549.7 L434.7,2553.1 L385.9,2557.1" stroke="#000" stroke-width="1.8" fill="none" stroke-linejoin="round"/>
<path d="M421.5,2046.0 L419.7,2047.6 L417.2,2049.8 L414.2,2052.4 L410.9,2055.2 L407.7,2058.3 L404.7,2061.3 L402.2,2064.3 L400.4,2067.1 L399.2,2069.7 L398.4,2072.3 L397.9,2074.9 L397.8,2077.5 L397.9,2080.2 L398.4,2082.8 L399.2,2085.5 L400.4,2088.3 L401.8,2091.1 L403.6,2093.9 L405.6,2096.6 L408.0,2099.5 L410.7,2102.4 L413.9,2105.4 L417.5,2108.6 L421.5,2112.0 L426.2,2115.6 L431.5,2119.4 L437.3,2123.5 L443.5,2127.6 L449.9,2131.7 L456.4,2135.9 L462.8,2139.9 L469.1,2143.8 L475.5,2147.6 L482.2,2151.4 L489.1,2155.1 L495.9,2158.8 L502.6,2162.4 L508.8,2166.0 L514.5,2169.4 L519.3,2172.8 L523.5,2176.0 L527.2,2179.1 L530.5,2182.1 L533.2,2185.0 L535.5,2187.9 L537.3,2190.8 L538.5,2193.7 L539.1,2196.6 L539.1,2199.6 L538.5,2202.6 L537.3,2205.6 L535.6,2208.7 L533.4,2211.7 L530.8,2214.6 L527.9,2217.6 L524.6,2220.4 L520.7,2223.2 L515.9,2225.9 L510.5,2228.6 L504.8,2231.3 L499.1,2233.9 L493.7,2236.5 L488.9,2239.0 L484.9,2241.5 L481.6,2243.9 L478.5,2246.3 L475.8,2248.6 L473.5,2250.9 L471.7,2253.2 L470.3,2255.4 L469.4,2257.7 L469.1,2260.0 L469.4,2262.3 L470.3,2264.5 L471.8,2266.7 L473.7,2268.9 L476.0,2271.2 L478.7,2273.5 L481.7,2275.9 L484.9,2278.5 L488.7,2281.3 L493.2,2284.3 L498.1,2287.5 L503.4,2290.7 L508.6,2293.9 L513.6,2296.9 L518.1,2299.8 L521.9,2302.3 L524.9,2304.5 L527.5,2306.3 L529.6,2307.9 L531.5,2309.4 L533.2,2310.9 L534.7,2312.4 L536.2,2314.0 L537.8,2315.9 L539.6,2317.9 L541.4,2320.0 L543.3,2322.2 L545.0,2324.5 L546.5,2326.8 L547.7,2329.2 L548.3,2331.7 L548.3,2334.3 L547.8,2337.0 L546.8,2339.8 L545.5,2342.7 L543.7,2345.7 L541.5,2348.7 L538.9,2351.8 L535.9,2355.0 L532.5,2358.1 L528.3,2361.3 L523.2,2364.6 L517.4,2368.0 L511.4,2371.5 L505.3,2374.9 L499.5,2378.2 L494.4,2381.4 L490.2,2384.5 L486.8,2387.4 L483.8,2390.2 L481.2,2392.9 L479.0,2395.6 L477.2,2398.2 L475.9,2400.7 L474.9,2403.2 L474.4,2405.7 L474.4,2408.1 L475.0,2410.4 L476.1,2412.6 L477.5,2414.8 L479.2,2417.0 L481.1,2419.3 L483.0,2421.7 L484.9,2424.2 L487.0,2426.9 L489.6,2429.8 L492.4,2432.9 L495.3,2435.9 L498.0,2439.0 L500.4,2442.1 L502.3,2445.1 L503.4,2448.0 L503.9,2450.8 L504.0,2453.5 L503.6,2456.1 L502.9,2458.7 L501.8,2461.3 L500.1,2463.9 L498.1,2466.5 L495.5,2469.1 L492.3,2471.7 L488.5,2474.3 L484.2,2476.9 L479.5,2479.5 L474.4,2482.1 L469.2,2484.7 L463.8,2487.4 L458.5,2490.2 L452.8,2493.1 L446.6,2496.1 L439.9,2499.2 L433.3,2502.3 L426.8,2505.3 L420.7,2508.4 L415.4,2511.3 L411.0,2514.0 L407.5,2516.5 L404.5,2518.8 L402.1,2521.0 L400.3,2523.2 L398.9,2525.3 L398.1,2527.5 L397.7,2529.9 L397.8,2532.5 L398.7,2535.5 L400.6,2538.9 L403.2,2542.5 L406.2,2546.2 L409.3,2549.7 L412.2,2552.9 L414.6,2555.6 L416.2,2557.6" stroke="#ff0000" stroke-width="6.8" fill="none" stroke-linejoin="round" />
</g>
<text x="761.3" y="628.6" font-size="58" fill="#333" font-weight="bold" textLength="42.8" lengthAdjust="spacingAndGlyphs" >c)</text>
<text x="758.2" y="2127.7" font-size="58" fill="#333" font-weight="bold" textLength="32.7" lengthAdjust="spacingAndGlyphs" >f)</text>
<text transform="translate(1707.0,1090.6) rotate(-90)" x="0" y="0" font-size="35.5" fill="#444" textLength="387" lengthAdjust="spacingAndGlyphs" >FFT (LAH); window = 4m</text>
<text transform="translate(1743.9,973.6) rotate(-90)" x="0" y="0" font-size="35.5" fill="#444" textLength="153.3" lengthAdjust="spacingAndGlyphs" >step=0.03</text>
<text transform="translate(1692.0,2527.8) rotate(-90)" x="0" y="0" font-size="35.5" fill="#444" textLength="411.5" lengthAdjust="spacingAndGlyphs" >FFT (LAH); window = 4m</text>
<text transform="translate(1733.2,2384.6) rotate(-90)" x="0" y="0" font-size="35.5" fill="#444" textLength="153.3" lengthAdjust="spacingAndGlyphs" >step=0.03</text>
<line x1="1649.0" y1="2045.6" x2="1649.0" y2="2558.5" stroke="#0a32ff" stroke-width="2.2" />
<line x1="1650.0" y1="2051.6" x2="1653.0" y2="2051.6" stroke="#333" stroke-width="1.2" />
<line x1="1650.0" y1="2064.4" x2="1653.0" y2="2064.4" stroke="#333" stroke-width="1.2" />
<line x1="1650.0" y1="2077.3" x2="1653.0" y2="2077.3" stroke="#333" stroke-width="1.2" />
<line x1="1650.0" y1="2090.1" x2="1653.0" y2="2090.1" stroke="#333" stroke-width="1.2" />
<line x1="1650.0" y1="2102.9" x2="1653.0" y2="2102.9" stroke="#333" stroke-width="1.2" />
<line x1="1650.0" y1="2115.8" x2="1653.0" y2="2115.8" stroke="#333" stroke-width="1.2" />
<line x1="1650.0" y1="2128.6" x2="1653.0" y2="2128.6" stroke="#333" stroke-width="1.2" />
<line x1="1650.0" y1="2141.4" x2="1653.0" y2="2141.4" stroke="#333" stroke-width="1.2" />
<line x1="1650.0" y1="2154.2" x2="1653.0" y2="2154.2" stroke="#333" stroke-width="1.2" />
<line x1="1650.0" y1="2167.1" x2="1653.0" y2="2167.1" stroke="#333" stroke-width="1.2" />
<line x1="1650.0" y1="2179.9" x2="1653.0" y2="2179.9" stroke="#333" stroke-width="1.2" />
<line x1="1650.0" y1="2192.7" x2="1653.0" y2="2192.7" stroke="#333" stroke-width="1.2" />
<line x1="1650.0" y1="2205.6" x2="1653.0" y2="2205.6" stroke="#333" stroke-width="1.2" />
<line x1="1650.0" y1="2218.4" x2="1653.0" y2="2218.4" stroke="#333" stroke-width="1.2" />
<line x1="1650.0" y1="2231.2" x2="1653.0" y2="2231.2" stroke="#333" stroke-width="1.2" />
<line x1="1650.0" y1="2244.0" x2="1653.0" y2="2244.0" stroke="#333" stroke-width="1.2" />
<line x1="1650.0" y1="2256.9" x2="1653.0" y2="2256.9" stroke="#333" stroke-width="1.2" />
<line x1="1650.0" y1="2269.7" x2="1653.0" y2="2269.7" stroke="#333" stroke-width="1.2" />
<line x1="1650.0" y1="2282.5" x2="1653.0" y2="2282.5" stroke="#333" stroke-width="1.2" />
<line x1="1650.0" y1="2295.4" x2="1653.0" y2="2295.4" stroke="#333" stroke-width="1.2" />
<line x1="1650.0" y1="2308.2" x2="1653.0" y2="2308.2" stroke="#333" stroke-width="1.2" />
<line x1="1650.0" y1="2321.0" x2="1653.0" y2="2321.0" stroke="#333" stroke-width="1.2" />
<line x1="1650.0" y1="2333.9" x2="1653.0" y2="2333.9" stroke="#333" stroke-width="1.2" />
<line x1="1650.0" y1="2346.7" x2="1653.0" y2="2346.7" stroke="#333" stroke-width="1.2" />
<line x1="1650.0" y1="2359.5" x2="1653.0" y2="2359.5" stroke="#333" stroke-width="1.2" />
<line x1="1650.0" y1="2372.3" x2="1653.0" y2="2372.3" stroke="#333" stroke-width="1.2" />
<line x1="1650.0" y1="2385.2" x2="1653.0" y2="2385.2" stroke="#333" stroke-width="1.2" />
<line x1="1650.0" y1="2398.0" x2="1653.0" y2="2398.0" stroke="#333" stroke-width="1.2" />
<line x1="1650.0" y1="2410.8" x2="1653.0" y2="2410.8" stroke="#333" stroke-width="1.2" />
<line x1="1650.0" y1="2423.7" x2="1653.0" y2="2423.7" stroke="#333" stroke-width="1.2" />
<line x1="1650.0" y1="2436.5" x2="1653.0" y2="2436.5" stroke="#333" stroke-width="1.2" />
<line x1="1650.0" y1="2449.3" x2="1653.0" y2="2449.3" stroke="#333" stroke-width="1.2" />
<line x1="1650.0" y1="2462.2" x2="1653.0" y2="2462.2" stroke="#333" stroke-width="1.2" />
<line x1="1650.0" y1="2475.0" x2="1653.0" y2="2475.0" stroke="#333" stroke-width="1.2" />
<line x1="1650.0" y1="2487.8" x2="1653.0" y2="2487.8" stroke="#333" stroke-width="1.2" />
<line x1="1650.0" y1="2500.7" x2="1653.0" y2="2500.7" stroke="#333" stroke-width="1.2" />
<line x1="1650.0" y1="2513.5" x2="1653.0" y2="2513.5" stroke="#333" stroke-width="1.2" />
<line x1="1650.0" y1="2526.3" x2="1653.0" y2="2526.3" stroke="#333" stroke-width="1.2" />
<line x1="1650.0" y1="2539.1" x2="1653.0" y2="2539.1" stroke="#333" stroke-width="1.2" />
<line x1="1650.0" y1="2552.0" x2="1653.0" y2="2552.0" stroke="#333" stroke-width="1.2" />
<line x1="830.0" y1="570.9" x2="833.4" y2="570.9" stroke="#777" stroke-width="1.5" />
<line x1="830.0" y1="602.1" x2="833.4" y2="602.1" stroke="#777" stroke-width="1.5" />
<line x1="830.0" y1="633.4" x2="833.4" y2="633.4" stroke="#777" stroke-width="1.5" />
<line x1="830.0" y1="664.6" x2="833.4" y2="664.6" stroke="#777" stroke-width="1.5" />
<line x1="830.0" y1="695.8" x2="833.4" y2="695.8" stroke="#777" stroke-width="1.5" />
<line x1="830.0" y1="727.0" x2="833.4" y2="727.0" stroke="#777" stroke-width="1.5" />
<line x1="830.0" y1="758.2" x2="833.4" y2="758.2" stroke="#777" stroke-width="1.5" />
<line x1="830.0" y1="789.5" x2="833.4" y2="789.5" stroke="#777" stroke-width="1.5" />
<line x1="830.0" y1="820.7" x2="833.4" y2="820.7" stroke="#777" stroke-width="1.5" />
<line x1="830.0" y1="851.9" x2="833.4" y2="851.9" stroke="#777" stroke-width="1.5" />
<line x1="830.0" y1="883.1" x2="833.4" y2="883.1" stroke="#777" stroke-width="1.5" />
<line x1="830.0" y1="914.3" x2="833.4" y2="914.3" stroke="#777" stroke-width="1.5" />
<line x1="830.0" y1="945.6" x2="833.4" y2="945.6" stroke="#777" stroke-width="1.5" />
<line x1="830.0" y1="976.8" x2="833.4" y2="976.8" stroke="#777" stroke-width="1.5" />
<line x1="830.0" y1="1008.0" x2="833.4" y2="1008.0" stroke="#777" stroke-width="1.5" />
<line x1="830.0" y1="1039.2" x2="833.4" y2="1039.2" stroke="#777" stroke-width="1.5" />
<line x1="830.0" y1="1070.4" x2="833.4" y2="1070.4" stroke="#777" stroke-width="1.5" />
<line x1="830.0" y1="1101.7" x2="833.4" y2="1101.7" stroke="#777" stroke-width="1.5" />
<line x1="830.0" y1="1132.9" x2="833.4" y2="1132.9" stroke="#777" stroke-width="1.5" />
<line x1="830.0" y1="1164.1" x2="833.4" y2="1164.1" stroke="#777" stroke-width="1.5" />
<line x1="830.0" y1="1195.3" x2="833.4" y2="1195.3" stroke="#777" stroke-width="1.5" />
<line x1="830.0" y1="1226.5" x2="833.4" y2="1226.5" stroke="#777" stroke-width="1.5" />
<line x1="830.0" y1="1257.8" x2="833.4" y2="1257.8" stroke="#777" stroke-width="1.5" />
<line x1="830.0" y1="1289.0" x2="833.4" y2="1289.0" stroke="#777" stroke-width="1.5" />
<line x1="830.0" y1="2071.8" x2="833.4" y2="2071.8" stroke="#777" stroke-width="1.5" />
<line x1="830.0" y1="2103.0" x2="833.4" y2="2103.0" stroke="#777" stroke-width="1.5" />
<line x1="830.0" y1="2134.3" x2="833.4" y2="2134.3" stroke="#777" stroke-width="1.5" />
<line x1="830.0" y1="2165.5" x2="833.4" y2="2165.5" stroke="#777" stroke-width="1.5" />
<line x1="830.0" y1="2196.7" x2="833.4" y2="2196.7" stroke="#777" stroke-width="1.5" />
<line x1="830.0" y1="2227.9" x2="833.4" y2="2227.9" stroke="#777" stroke-width="1.5" />
<line x1="830.0" y1="2259.1" x2="833.4" y2="2259.1" stroke="#777" stroke-width="1.5" />
<line x1="830.0" y1="2290.4" x2="833.4" y2="2290.4" stroke="#777" stroke-width="1.5" />
<line x1="830.0" y1="2321.6" x2="833.4" y2="2321.6" stroke="#777" stroke-width="1.5" />
<line x1="830.0" y1="2352.8" x2="833.4" y2="2352.8" stroke="#777" stroke-width="1.5" />
<line x1="830.0" y1="2384.0" x2="833.4" y2="2384.0" stroke="#777" stroke-width="1.5" />
<line x1="830.0" y1="2415.2" x2="833.4" y2="2415.2" stroke="#777" stroke-width="1.5" />
<line x1="830.0" y1="2446.5" x2="833.4" y2="2446.5" stroke="#777" stroke-width="1.5" />
<line x1="830.0" y1="2477.7" x2="833.4" y2="2477.7" stroke="#777" stroke-width="1.5" />
<line x1="830.0" y1="2508.9" x2="833.4" y2="2508.9" stroke="#777" stroke-width="1.5" />
<line x1="830.0" y1="2540.1" x2="833.4" y2="2540.1" stroke="#777" stroke-width="1.5" />
</svg></body></html>
